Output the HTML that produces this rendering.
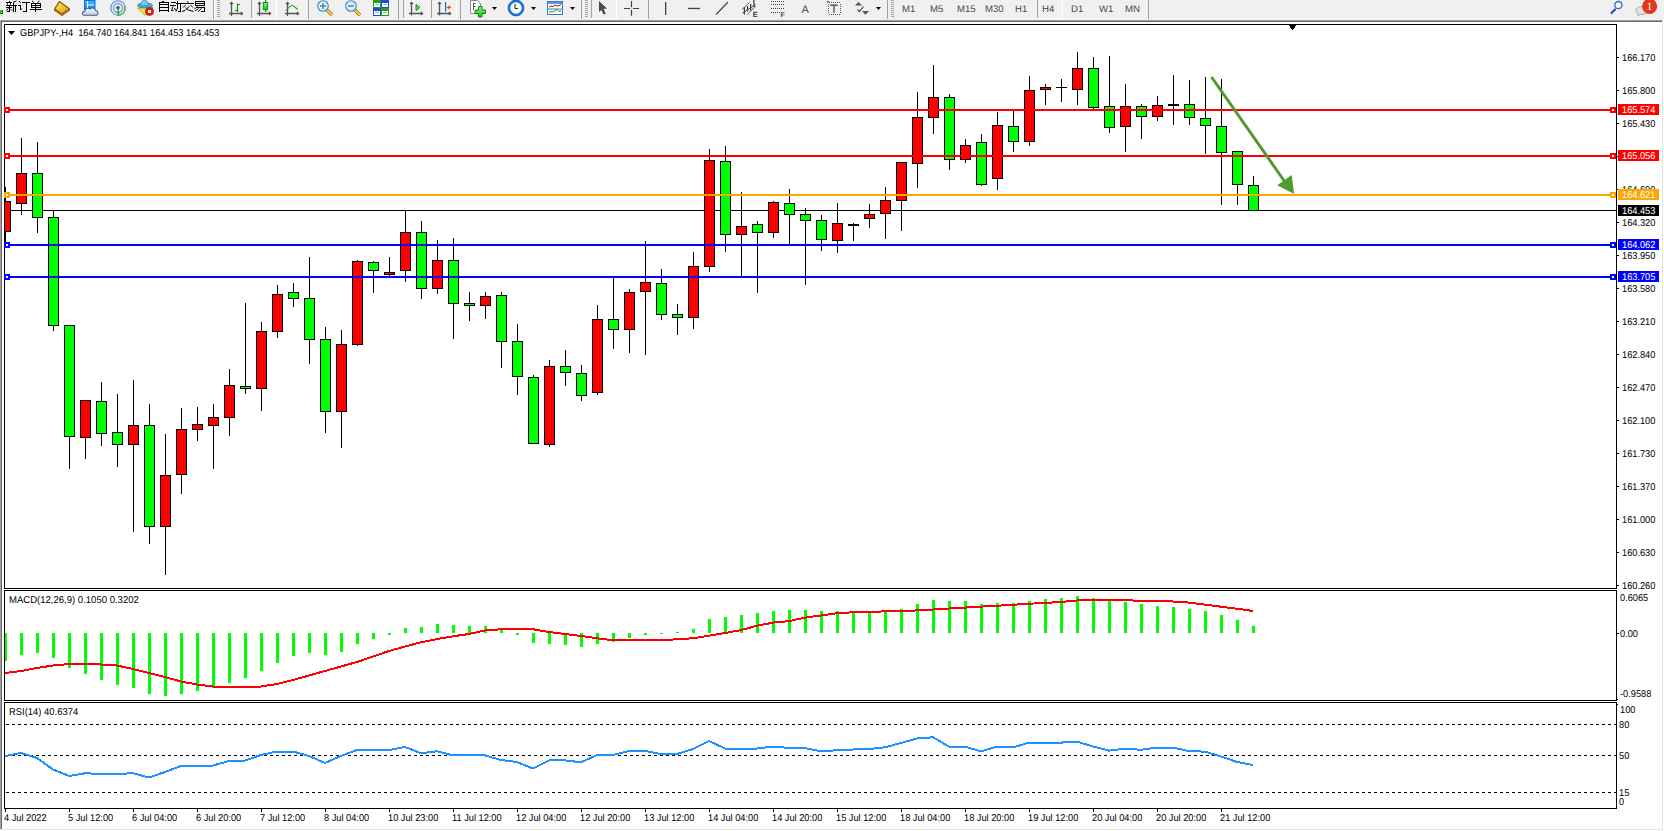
<!DOCTYPE html>
<html><head><meta charset="utf-8"><title>MT4 GBPJPY H4</title>
<style>
html,body{margin:0;padding:0;width:1664px;height:831px;overflow:hidden;background:#f0f0f0;font-family:"Liberation Sans",sans-serif}
svg text{white-space:pre;text-rendering:geometricPrecision}
</style></head><body>
<svg width="1664" height="831" viewBox="0 0 1664 831" style="position:absolute;left:0;top:0">
<g shape-rendering="crispEdges">
<rect x="0" y="0" width="1664" height="20" fill="#f0f0f0"/>
<rect x="0" y="20" width="1662" height="1" fill="#a0a0a0"/>
<rect x="1" y="21" width="1661" height="1" fill="#696969"/>
<rect x="0" y="20" width="1" height="810" fill="#a0a0a0"/>
<rect x="1" y="21" width="1" height="808" fill="#696969"/>
<rect x="2" y="22" width="1660" height="807" fill="#fff"/>
<rect x="1662" y="20" width="1" height="810" fill="#e3e3e3"/>
<rect x="0" y="829" width="1663" height="1" fill="#e3e3e3"/>
<rect x="1663" y="20" width="1" height="811" fill="#fff"/>
<rect x="0" y="830" width="1664" height="1" fill="#fff"/>
<defs><clipPath id="cm"><rect x="5" y="25" width="1611" height="563"/></clipPath><clipPath id="cd"><rect x="5" y="591" width="1611" height="109"/></clipPath><clipPath id="cr"><rect x="5" y="703" width="1611" height="105"/></clipPath></defs>
<g clip-path="url(#cm)"><rect x="5" y="210" width="1611" height="1" fill="#000"/><rect x="5" y="187" width="1" height="55" fill="#000"/><rect x="0" y="201" width="11" height="31" fill="#000"/><rect x="1" y="202" width="9" height="29" fill="#ff0000"/><rect x="21" y="138" width="1" height="77" fill="#000"/><rect x="16" y="173" width="11" height="31" fill="#000"/><rect x="17" y="174" width="9" height="29" fill="#ff0000"/><rect x="37" y="142" width="1" height="91" fill="#000"/><rect x="32" y="173" width="11" height="45" fill="#000"/><rect x="33" y="174" width="9" height="43" fill="#00ff00"/><rect x="53" y="210" width="1" height="121" fill="#000"/><rect x="48" y="217" width="11" height="109" fill="#000"/><rect x="49" y="218" width="9" height="107" fill="#00ff00"/><rect x="69" y="325" width="1" height="144" fill="#000"/><rect x="64" y="325" width="11" height="112" fill="#000"/><rect x="65" y="326" width="9" height="110" fill="#00ff00"/><rect x="85" y="400" width="1" height="59" fill="#000"/><rect x="80" y="400" width="11" height="38" fill="#000"/><rect x="81" y="401" width="9" height="36" fill="#ff0000"/><rect x="101" y="382" width="1" height="64" fill="#000"/><rect x="96" y="401" width="11" height="33" fill="#000"/><rect x="97" y="402" width="9" height="31" fill="#00ff00"/><rect x="117" y="394" width="1" height="73" fill="#000"/><rect x="112" y="432" width="11" height="13" fill="#000"/><rect x="113" y="433" width="9" height="11" fill="#00ff00"/><rect x="133" y="380" width="1" height="152" fill="#000"/><rect x="128" y="425" width="11" height="20" fill="#000"/><rect x="129" y="426" width="9" height="18" fill="#ff0000"/><rect x="149" y="404" width="1" height="140" fill="#000"/><rect x="144" y="425" width="11" height="102" fill="#000"/><rect x="145" y="426" width="9" height="100" fill="#00ff00"/><rect x="165" y="434" width="1" height="141" fill="#000"/><rect x="160" y="475" width="11" height="52" fill="#000"/><rect x="161" y="476" width="9" height="50" fill="#ff0000"/><rect x="181" y="408" width="1" height="86" fill="#000"/><rect x="176" y="429" width="11" height="46" fill="#000"/><rect x="177" y="430" width="9" height="44" fill="#ff0000"/><rect x="197" y="407" width="1" height="34" fill="#000"/><rect x="192" y="424" width="11" height="6" fill="#000"/><rect x="193" y="425" width="9" height="4" fill="#ff0000"/><rect x="213" y="404" width="1" height="65" fill="#000"/><rect x="208" y="417" width="11" height="9" fill="#000"/><rect x="209" y="418" width="9" height="7" fill="#ff0000"/><rect x="229" y="369" width="1" height="67" fill="#000"/><rect x="224" y="385" width="11" height="33" fill="#000"/><rect x="225" y="386" width="9" height="31" fill="#ff0000"/><rect x="245" y="303" width="1" height="91" fill="#000"/><rect x="240" y="386" width="11" height="3" fill="#000"/><rect x="241" y="387" width="9" height="1" fill="#00ff00"/><rect x="261" y="322" width="1" height="89" fill="#000"/><rect x="256" y="331" width="11" height="58" fill="#000"/><rect x="257" y="332" width="9" height="56" fill="#ff0000"/><rect x="277" y="285" width="1" height="53" fill="#000"/><rect x="272" y="294" width="11" height="38" fill="#000"/><rect x="273" y="295" width="9" height="36" fill="#ff0000"/><rect x="293" y="283" width="1" height="24" fill="#000"/><rect x="288" y="292" width="11" height="7" fill="#000"/><rect x="289" y="293" width="9" height="5" fill="#00ff00"/><rect x="309" y="257" width="1" height="107" fill="#000"/><rect x="304" y="298" width="11" height="42" fill="#000"/><rect x="305" y="299" width="9" height="40" fill="#00ff00"/><rect x="325" y="327" width="1" height="106" fill="#000"/><rect x="320" y="339" width="11" height="73" fill="#000"/><rect x="321" y="340" width="9" height="71" fill="#00ff00"/><rect x="341" y="330" width="1" height="118" fill="#000"/><rect x="336" y="344" width="11" height="68" fill="#000"/><rect x="337" y="345" width="9" height="66" fill="#ff0000"/><rect x="357" y="260" width="1" height="86" fill="#000"/><rect x="352" y="261" width="11" height="84" fill="#000"/><rect x="353" y="262" width="9" height="82" fill="#ff0000"/><rect x="373" y="261" width="1" height="32" fill="#000"/><rect x="368" y="262" width="11" height="9" fill="#000"/><rect x="369" y="263" width="9" height="7" fill="#00ff00"/><rect x="389" y="257" width="1" height="19" fill="#000"/><rect x="384" y="272" width="11" height="3" fill="#000"/><rect x="385" y="273" width="9" height="1" fill="#ff0000"/><rect x="405" y="210" width="1" height="72" fill="#000"/><rect x="400" y="232" width="11" height="39" fill="#000"/><rect x="401" y="233" width="9" height="37" fill="#ff0000"/><rect x="421" y="221" width="1" height="78" fill="#000"/><rect x="416" y="232" width="11" height="57" fill="#000"/><rect x="417" y="233" width="9" height="55" fill="#00ff00"/><rect x="437" y="240" width="1" height="54" fill="#000"/><rect x="432" y="260" width="11" height="29" fill="#000"/><rect x="433" y="261" width="9" height="27" fill="#ff0000"/><rect x="453" y="238" width="1" height="101" fill="#000"/><rect x="448" y="260" width="11" height="44" fill="#000"/><rect x="449" y="261" width="9" height="42" fill="#00ff00"/><rect x="469" y="292" width="1" height="29" fill="#000"/><rect x="464" y="303" width="11" height="3" fill="#000"/><rect x="465" y="304" width="9" height="1" fill="#00ff00"/><rect x="485" y="292" width="1" height="27" fill="#000"/><rect x="480" y="296" width="11" height="10" fill="#000"/><rect x="481" y="297" width="9" height="8" fill="#ff0000"/><rect x="501" y="292" width="1" height="76" fill="#000"/><rect x="496" y="295" width="11" height="47" fill="#000"/><rect x="497" y="296" width="9" height="45" fill="#00ff00"/><rect x="517" y="324" width="1" height="71" fill="#000"/><rect x="512" y="341" width="11" height="36" fill="#000"/><rect x="513" y="342" width="9" height="34" fill="#00ff00"/><rect x="533" y="375" width="1" height="69" fill="#000"/><rect x="528" y="377" width="11" height="67" fill="#000"/><rect x="529" y="378" width="9" height="65" fill="#00ff00"/><rect x="549" y="360" width="1" height="87" fill="#000"/><rect x="544" y="366" width="11" height="79" fill="#000"/><rect x="545" y="367" width="9" height="77" fill="#ff0000"/><rect x="565" y="350" width="1" height="36" fill="#000"/><rect x="560" y="366" width="11" height="7" fill="#000"/><rect x="561" y="367" width="9" height="5" fill="#00ff00"/><rect x="581" y="365" width="1" height="36" fill="#000"/><rect x="576" y="373" width="11" height="23" fill="#000"/><rect x="577" y="374" width="9" height="21" fill="#00ff00"/><rect x="597" y="305" width="1" height="90" fill="#000"/><rect x="592" y="319" width="11" height="74" fill="#000"/><rect x="593" y="320" width="9" height="72" fill="#ff0000"/><rect x="613" y="277" width="1" height="72" fill="#000"/><rect x="608" y="319" width="11" height="11" fill="#000"/><rect x="609" y="320" width="9" height="9" fill="#00ff00"/><rect x="629" y="289" width="1" height="64" fill="#000"/><rect x="624" y="292" width="11" height="38" fill="#000"/><rect x="625" y="293" width="9" height="36" fill="#ff0000"/><rect x="645" y="241" width="1" height="114" fill="#000"/><rect x="640" y="282" width="11" height="10" fill="#000"/><rect x="641" y="283" width="9" height="8" fill="#ff0000"/><rect x="661" y="269" width="1" height="51" fill="#000"/><rect x="656" y="283" width="11" height="32" fill="#000"/><rect x="657" y="284" width="9" height="30" fill="#00ff00"/><rect x="677" y="304" width="1" height="31" fill="#000"/><rect x="672" y="314" width="11" height="4" fill="#000"/><rect x="673" y="315" width="9" height="2" fill="#00ff00"/><rect x="693" y="252" width="1" height="77" fill="#000"/><rect x="688" y="266" width="11" height="52" fill="#000"/><rect x="689" y="267" width="9" height="50" fill="#ff0000"/><rect x="709" y="149" width="1" height="123" fill="#000"/><rect x="704" y="160" width="11" height="107" fill="#000"/><rect x="705" y="161" width="9" height="105" fill="#ff0000"/><rect x="725" y="146" width="1" height="106" fill="#000"/><rect x="720" y="161" width="11" height="74" fill="#000"/><rect x="721" y="162" width="9" height="72" fill="#00ff00"/><rect x="741" y="192" width="1" height="86" fill="#000"/><rect x="736" y="226" width="11" height="9" fill="#000"/><rect x="737" y="227" width="9" height="7" fill="#ff0000"/><rect x="757" y="221" width="1" height="72" fill="#000"/><rect x="752" y="224" width="11" height="9" fill="#000"/><rect x="753" y="225" width="9" height="7" fill="#00ff00"/><rect x="773" y="201" width="1" height="37" fill="#000"/><rect x="768" y="202" width="11" height="31" fill="#000"/><rect x="769" y="203" width="9" height="29" fill="#ff0000"/><rect x="789" y="189" width="1" height="56" fill="#000"/><rect x="784" y="203" width="11" height="12" fill="#000"/><rect x="785" y="204" width="9" height="10" fill="#00ff00"/><rect x="805" y="208" width="1" height="77" fill="#000"/><rect x="800" y="214" width="11" height="7" fill="#000"/><rect x="801" y="215" width="9" height="5" fill="#00ff00"/><rect x="821" y="215" width="1" height="36" fill="#000"/><rect x="816" y="220" width="11" height="20" fill="#000"/><rect x="817" y="221" width="9" height="18" fill="#00ff00"/><rect x="837" y="203" width="1" height="50" fill="#000"/><rect x="832" y="223" width="11" height="18" fill="#000"/><rect x="833" y="224" width="9" height="16" fill="#ff0000"/><rect x="853" y="223" width="1" height="18" fill="#000"/><rect x="848" y="224" width="11" height="2" fill="#000"/><rect x="869" y="204" width="1" height="24" fill="#000"/><rect x="864" y="214" width="11" height="5" fill="#000"/><rect x="865" y="215" width="9" height="3" fill="#ff0000"/><rect x="885" y="187" width="1" height="52" fill="#000"/><rect x="880" y="200" width="11" height="14" fill="#000"/><rect x="881" y="201" width="9" height="12" fill="#ff0000"/><rect x="901" y="162" width="1" height="69" fill="#000"/><rect x="896" y="162" width="11" height="39" fill="#000"/><rect x="897" y="163" width="9" height="37" fill="#ff0000"/><rect x="917" y="92" width="1" height="96" fill="#000"/><rect x="912" y="117" width="11" height="47" fill="#000"/><rect x="913" y="118" width="9" height="45" fill="#ff0000"/><rect x="933" y="65" width="1" height="69" fill="#000"/><rect x="928" y="97" width="11" height="21" fill="#000"/><rect x="929" y="98" width="9" height="19" fill="#ff0000"/><rect x="949" y="94" width="1" height="76" fill="#000"/><rect x="944" y="97" width="11" height="63" fill="#000"/><rect x="945" y="98" width="9" height="61" fill="#00ff00"/><rect x="965" y="139" width="1" height="24" fill="#000"/><rect x="960" y="145" width="11" height="15" fill="#000"/><rect x="961" y="146" width="9" height="13" fill="#ff0000"/><rect x="981" y="134" width="1" height="52" fill="#000"/><rect x="976" y="142" width="11" height="43" fill="#000"/><rect x="977" y="143" width="9" height="41" fill="#00ff00"/><rect x="997" y="112" width="1" height="78" fill="#000"/><rect x="992" y="125" width="11" height="54" fill="#000"/><rect x="993" y="126" width="9" height="52" fill="#ff0000"/><rect x="1013" y="110" width="1" height="42" fill="#000"/><rect x="1008" y="126" width="11" height="16" fill="#000"/><rect x="1009" y="127" width="9" height="14" fill="#00ff00"/><rect x="1029" y="76" width="1" height="70" fill="#000"/><rect x="1024" y="90" width="11" height="52" fill="#000"/><rect x="1025" y="91" width="9" height="50" fill="#ff0000"/><rect x="1045" y="84" width="1" height="21" fill="#000"/><rect x="1040" y="87" width="11" height="3" fill="#000"/><rect x="1041" y="88" width="9" height="1" fill="#ff0000"/><rect x="1061" y="79" width="1" height="23" fill="#000"/><rect x="1056" y="87" width="11" height="1" fill="#000"/><rect x="1077" y="52" width="1" height="53" fill="#000"/><rect x="1072" y="68" width="11" height="22" fill="#000"/><rect x="1073" y="69" width="9" height="20" fill="#ff0000"/><rect x="1093" y="57" width="1" height="53" fill="#000"/><rect x="1088" y="68" width="11" height="40" fill="#000"/><rect x="1089" y="69" width="9" height="38" fill="#00ff00"/><rect x="1109" y="56" width="1" height="77" fill="#000"/><rect x="1104" y="106" width="11" height="22" fill="#000"/><rect x="1105" y="107" width="9" height="20" fill="#00ff00"/><rect x="1125" y="84" width="1" height="68" fill="#000"/><rect x="1120" y="106" width="11" height="21" fill="#000"/><rect x="1121" y="107" width="9" height="19" fill="#ff0000"/><rect x="1141" y="104" width="1" height="35" fill="#000"/><rect x="1136" y="106" width="11" height="11" fill="#000"/><rect x="1137" y="107" width="9" height="9" fill="#00ff00"/><rect x="1157" y="96" width="1" height="25" fill="#000"/><rect x="1152" y="105" width="11" height="12" fill="#000"/><rect x="1153" y="106" width="9" height="10" fill="#ff0000"/><rect x="1173" y="75" width="1" height="50" fill="#000"/><rect x="1168" y="104" width="11" height="2" fill="#000"/><rect x="1189" y="80" width="1" height="45" fill="#000"/><rect x="1184" y="104" width="11" height="14" fill="#000"/><rect x="1185" y="105" width="9" height="12" fill="#00ff00"/><rect x="1205" y="77" width="1" height="77" fill="#000"/><rect x="1200" y="118" width="11" height="8" fill="#000"/><rect x="1201" y="119" width="9" height="6" fill="#00ff00"/><rect x="1221" y="79" width="1" height="126" fill="#000"/><rect x="1216" y="126" width="11" height="27" fill="#000"/><rect x="1217" y="127" width="9" height="25" fill="#00ff00"/><rect x="1237" y="151" width="1" height="54" fill="#000"/><rect x="1232" y="151" width="11" height="34" fill="#000"/><rect x="1233" y="152" width="9" height="32" fill="#00ff00"/><rect x="1253" y="176" width="1" height="35" fill="#000"/><rect x="1248" y="185" width="11" height="26" fill="#000"/><rect x="1249" y="186" width="9" height="24" fill="#00ff00"/></g>
<rect x="4" y="24" width="1613" height="1" fill="#000"/><rect x="4" y="588" width="1613" height="1" fill="#000"/><rect x="4" y="24" width="1" height="565" fill="#000"/><rect x="1616" y="24" width="1" height="565" fill="#000"/><rect x="4" y="590" width="1613" height="1" fill="#000"/><rect x="4" y="700" width="1613" height="1" fill="#000"/><rect x="4" y="590" width="1" height="111" fill="#000"/><rect x="1616" y="590" width="1" height="111" fill="#000"/><rect x="4" y="702" width="1613" height="1" fill="#000"/><rect x="4" y="808" width="1613" height="1" fill="#000"/><rect x="4" y="702" width="1" height="107" fill="#000"/><rect x="1616" y="702" width="1" height="107" fill="#000"/>
<rect x="5" y="109" width="1611" height="2" fill="#ff0000"/><rect x="4" y="107" width="6" height="6" fill="#ff0000"/><rect x="6" y="109" width="2" height="2" fill="#fff"/><rect x="1610" y="107" width="6" height="6" fill="#ff0000"/><rect x="1612" y="109" width="2" height="2" fill="#fff"/><rect x="5" y="155" width="1611" height="2" fill="#ff0000"/><rect x="4" y="153" width="6" height="6" fill="#ff0000"/><rect x="6" y="155" width="2" height="2" fill="#fff"/><rect x="1610" y="153" width="6" height="6" fill="#ff0000"/><rect x="1612" y="155" width="2" height="2" fill="#fff"/><rect x="5" y="194" width="1611" height="2" fill="#ffa500"/><rect x="4" y="192" width="6" height="6" fill="#ffa500"/><rect x="6" y="194" width="2" height="2" fill="#fff"/><rect x="1610" y="192" width="6" height="6" fill="#ffa500"/><rect x="1612" y="194" width="2" height="2" fill="#fff"/><rect x="5" y="244" width="1611" height="2" fill="#0000ff"/><rect x="4" y="242" width="6" height="6" fill="#0000ff"/><rect x="6" y="244" width="2" height="2" fill="#fff"/><rect x="1610" y="242" width="6" height="6" fill="#0000ff"/><rect x="1612" y="244" width="2" height="2" fill="#fff"/><rect x="5" y="276" width="1611" height="2" fill="#0000ff"/><rect x="4" y="274" width="6" height="6" fill="#0000ff"/><rect x="6" y="276" width="2" height="2" fill="#fff"/><rect x="1610" y="274" width="6" height="6" fill="#0000ff"/><rect x="1612" y="276" width="2" height="2" fill="#fff"/>
<rect x="1617" y="57" width="2" height="1" fill="#000"/><rect x="1617" y="90" width="2" height="1" fill="#000"/><rect x="1617" y="123" width="2" height="1" fill="#000"/><rect x="1617" y="156" width="2" height="1" fill="#000"/><rect x="1617" y="189" width="2" height="1" fill="#000"/><rect x="1617" y="222" width="2" height="1" fill="#000"/><rect x="1617" y="255" width="2" height="1" fill="#000"/><rect x="1617" y="288" width="2" height="1" fill="#000"/><rect x="1617" y="321" width="2" height="1" fill="#000"/><rect x="1617" y="354" width="2" height="1" fill="#000"/><rect x="1617" y="387" width="2" height="1" fill="#000"/><rect x="1617" y="420" width="2" height="1" fill="#000"/><rect x="1617" y="453" width="2" height="1" fill="#000"/><rect x="1617" y="486" width="2" height="1" fill="#000"/><rect x="1617" y="519" width="2" height="1" fill="#000"/><rect x="1617" y="552" width="2" height="1" fill="#000"/><rect x="1617" y="585" width="2" height="1" fill="#000"/>
</g><g font-family="Liberation Sans, sans-serif"><text transform="translate(1622 61) scale(0.935 1)" font-size="9.9" fill="#000">166.170</text><text transform="translate(1622 94) scale(0.935 1)" font-size="9.9" fill="#000">165.800</text><text transform="translate(1622 127) scale(0.935 1)" font-size="9.9" fill="#000">165.430</text><text transform="translate(1622 160) scale(0.935 1)" font-size="9.9" fill="#000">165.060</text><text transform="translate(1622 193) scale(0.935 1)" font-size="9.9" fill="#000">164.690</text><text transform="translate(1622 226) scale(0.935 1)" font-size="9.9" fill="#000">164.320</text><text transform="translate(1622 259) scale(0.935 1)" font-size="9.9" fill="#000">163.950</text><text transform="translate(1622 292) scale(0.935 1)" font-size="9.9" fill="#000">163.580</text><text transform="translate(1622 325) scale(0.935 1)" font-size="9.9" fill="#000">163.210</text><text transform="translate(1622 358) scale(0.935 1)" font-size="9.9" fill="#000">162.840</text><text transform="translate(1622 391) scale(0.935 1)" font-size="9.9" fill="#000">162.470</text><text transform="translate(1622 424) scale(0.935 1)" font-size="9.9" fill="#000">162.100</text><text transform="translate(1622 457) scale(0.935 1)" font-size="9.9" fill="#000">161.730</text><text transform="translate(1622 490) scale(0.935 1)" font-size="9.9" fill="#000">161.370</text><text transform="translate(1622 523) scale(0.935 1)" font-size="9.9" fill="#000">161.000</text><text transform="translate(1622 556) scale(0.935 1)" font-size="9.9" fill="#000">160.630</text><text transform="translate(1622 589) scale(0.935 1)" font-size="9.9" fill="#000">160.260</text><text transform="translate(1620 601) scale(0.935 1)" font-size="9.9" fill="#000">0.6065</text><text transform="translate(1620 637) scale(0.935 1)" font-size="9.9" fill="#000">0.00</text><text transform="translate(1620 697) scale(0.935 1)" font-size="9.9" fill="#000">-0.9588</text><text transform="translate(1620 713) scale(0.935 1)" font-size="9.9" fill="#000">100</text><text transform="translate(1619 728) scale(0.935 1)" font-size="9.9" fill="#000">80</text><text transform="translate(1619 759) scale(0.935 1)" font-size="9.9" fill="#000">50</text><text transform="translate(1619 796) scale(0.935 1)" font-size="9.9" fill="#000">15</text><text transform="translate(1619 805) scale(0.935 1)" font-size="9.9" fill="#000">0</text><text transform="translate(4 821) scale(0.935 1)" font-size="9.9" fill="#000">4 Jul 2022</text><text transform="translate(68 821) scale(0.935 1)" font-size="9.9" fill="#000">5 Jul 12:00</text><text transform="translate(132 821) scale(0.935 1)" font-size="9.9" fill="#000">6 Jul 04:00</text><text transform="translate(196 821) scale(0.935 1)" font-size="9.9" fill="#000">6 Jul 20:00</text><text transform="translate(260 821) scale(0.935 1)" font-size="9.9" fill="#000">7 Jul 12:00</text><text transform="translate(324 821) scale(0.935 1)" font-size="9.9" fill="#000">8 Jul 04:00</text><text transform="translate(388 821) scale(0.935 1)" font-size="9.9" fill="#000">10 Jul 23:00</text><text transform="translate(452 821) scale(0.935 1)" font-size="9.9" fill="#000">11 Jul 12:00</text><text transform="translate(516 821) scale(0.935 1)" font-size="9.9" fill="#000">12 Jul 04:00</text><text transform="translate(580 821) scale(0.935 1)" font-size="9.9" fill="#000">12 Jul 20:00</text><text transform="translate(644 821) scale(0.935 1)" font-size="9.9" fill="#000">13 Jul 12:00</text><text transform="translate(708 821) scale(0.935 1)" font-size="9.9" fill="#000">14 Jul 04:00</text><text transform="translate(772 821) scale(0.935 1)" font-size="9.9" fill="#000">14 Jul 20:00</text><text transform="translate(836 821) scale(0.935 1)" font-size="9.9" fill="#000">15 Jul 12:00</text><text transform="translate(900 821) scale(0.935 1)" font-size="9.9" fill="#000">18 Jul 04:00</text><text transform="translate(964 821) scale(0.935 1)" font-size="9.9" fill="#000">18 Jul 20:00</text><text transform="translate(1028 821) scale(0.935 1)" font-size="9.9" fill="#000">19 Jul 12:00</text><text transform="translate(1092 821) scale(0.935 1)" font-size="9.9" fill="#000">20 Jul 04:00</text><text transform="translate(1156 821) scale(0.935 1)" font-size="9.9" fill="#000">20 Jul 20:00</text><text transform="translate(1220 821) scale(0.935 1)" font-size="9.9" fill="#000">21 Jul 12:00</text></g><g shape-rendering="crispEdges">
<rect x="1618" y="104" width="41" height="11" fill="#ff0000"/><rect x="1618" y="150" width="41" height="11" fill="#ff0000"/><rect x="1618" y="189" width="41" height="11" fill="#ffa500"/><rect x="1618" y="205" width="41" height="11" fill="#000"/><rect x="1618" y="239" width="41" height="11" fill="#0000ff"/><rect x="1618" y="271" width="41" height="11" fill="#0000ff"/>
<g clip-path="url(#cd)"><rect x="4" y="633" width="3" height="28" fill="#00ff00"/><rect x="20" y="633" width="3" height="22" fill="#00ff00"/><rect x="36" y="633" width="3" height="20" fill="#00ff00"/><rect x="52" y="633" width="3" height="25" fill="#00ff00"/><rect x="68" y="633" width="3" height="35" fill="#00ff00"/><rect x="84" y="633" width="3" height="41" fill="#00ff00"/><rect x="100" y="633" width="3" height="47" fill="#00ff00"/><rect x="116" y="633" width="3" height="52" fill="#00ff00"/><rect x="132" y="633" width="3" height="55" fill="#00ff00"/><rect x="148" y="633" width="3" height="61" fill="#00ff00"/><rect x="164" y="633" width="3" height="63" fill="#00ff00"/><rect x="180" y="633" width="3" height="61" fill="#00ff00"/><rect x="196" y="633" width="3" height="58" fill="#00ff00"/><rect x="212" y="633" width="3" height="55" fill="#00ff00"/><rect x="228" y="633" width="3" height="50" fill="#00ff00"/><rect x="244" y="633" width="3" height="45" fill="#00ff00"/><rect x="260" y="633" width="3" height="38" fill="#00ff00"/><rect x="276" y="633" width="3" height="30" fill="#00ff00"/><rect x="292" y="633" width="3" height="23" fill="#00ff00"/><rect x="308" y="633" width="3" height="20" fill="#00ff00"/><rect x="324" y="633" width="3" height="22" fill="#00ff00"/><rect x="340" y="633" width="3" height="19" fill="#00ff00"/><rect x="356" y="633" width="3" height="11" fill="#00ff00"/><rect x="372" y="633" width="3" height="6" fill="#00ff00"/><rect x="388" y="633" width="3" height="2" fill="#00ff00"/><rect x="404" y="628" width="3" height="5" fill="#00ff00"/><rect x="420" y="627" width="3" height="6" fill="#00ff00"/><rect x="436" y="624" width="3" height="9" fill="#00ff00"/><rect x="452" y="625" width="3" height="8" fill="#00ff00"/><rect x="468" y="626" width="3" height="7" fill="#00ff00"/><rect x="484" y="626" width="3" height="7" fill="#00ff00"/><rect x="500" y="629" width="3" height="4" fill="#00ff00"/><rect x="516" y="633" width="3" height="2" fill="#00ff00"/><rect x="532" y="633" width="3" height="10" fill="#00ff00"/><rect x="548" y="633" width="3" height="11" fill="#00ff00"/><rect x="564" y="633" width="3" height="12" fill="#00ff00"/><rect x="580" y="633" width="3" height="14" fill="#00ff00"/><rect x="596" y="633" width="3" height="11" fill="#00ff00"/><rect x="612" y="633" width="3" height="9" fill="#00ff00"/><rect x="628" y="633" width="3" height="5" fill="#00ff00"/><rect x="644" y="633" width="3" height="2" fill="#00ff00"/><rect x="660" y="633" width="3" height="1" fill="#00ff00"/><rect x="676" y="632" width="3" height="1" fill="#00ff00"/><rect x="692" y="629" width="3" height="4" fill="#00ff00"/><rect x="708" y="619" width="3" height="14" fill="#00ff00"/><rect x="724" y="617" width="3" height="16" fill="#00ff00"/><rect x="740" y="615" width="3" height="18" fill="#00ff00"/><rect x="756" y="613" width="3" height="20" fill="#00ff00"/><rect x="772" y="611" width="3" height="22" fill="#00ff00"/><rect x="788" y="610" width="3" height="23" fill="#00ff00"/><rect x="804" y="610" width="3" height="23" fill="#00ff00"/><rect x="820" y="611" width="3" height="22" fill="#00ff00"/><rect x="836" y="611" width="3" height="22" fill="#00ff00"/><rect x="852" y="612" width="3" height="21" fill="#00ff00"/><rect x="868" y="612" width="3" height="21" fill="#00ff00"/><rect x="884" y="612" width="3" height="21" fill="#00ff00"/><rect x="900" y="609" width="3" height="24" fill="#00ff00"/><rect x="916" y="604" width="3" height="29" fill="#00ff00"/><rect x="932" y="600" width="3" height="33" fill="#00ff00"/><rect x="948" y="601" width="3" height="32" fill="#00ff00"/><rect x="964" y="601" width="3" height="32" fill="#00ff00"/><rect x="980" y="604" width="3" height="29" fill="#00ff00"/><rect x="996" y="603" width="3" height="30" fill="#00ff00"/><rect x="1012" y="603" width="3" height="30" fill="#00ff00"/><rect x="1028" y="601" width="3" height="32" fill="#00ff00"/><rect x="1044" y="599" width="3" height="34" fill="#00ff00"/><rect x="1060" y="598" width="3" height="35" fill="#00ff00"/><rect x="1076" y="596" width="3" height="37" fill="#00ff00"/><rect x="1092" y="598" width="3" height="35" fill="#00ff00"/><rect x="1108" y="601" width="3" height="32" fill="#00ff00"/><rect x="1124" y="602" width="3" height="31" fill="#00ff00"/><rect x="1140" y="604" width="3" height="29" fill="#00ff00"/><rect x="1156" y="606" width="3" height="27" fill="#00ff00"/><rect x="1172" y="607" width="3" height="26" fill="#00ff00"/><rect x="1188" y="609" width="3" height="24" fill="#00ff00"/><rect x="1204" y="611" width="3" height="22" fill="#00ff00"/><rect x="1220" y="615" width="3" height="18" fill="#00ff00"/><rect x="1236" y="620" width="3" height="13" fill="#00ff00"/><rect x="1252" y="626" width="3" height="7" fill="#00ff00"/></g>
<rect x="6" y="724" width="3" height="1" fill="#000"/><rect x="12" y="724" width="3" height="1" fill="#000"/><rect x="18" y="724" width="3" height="1" fill="#000"/><rect x="24" y="724" width="3" height="1" fill="#000"/><rect x="30" y="724" width="3" height="1" fill="#000"/><rect x="36" y="724" width="3" height="1" fill="#000"/><rect x="42" y="724" width="3" height="1" fill="#000"/><rect x="48" y="724" width="3" height="1" fill="#000"/><rect x="54" y="724" width="3" height="1" fill="#000"/><rect x="60" y="724" width="3" height="1" fill="#000"/><rect x="66" y="724" width="3" height="1" fill="#000"/><rect x="72" y="724" width="3" height="1" fill="#000"/><rect x="78" y="724" width="3" height="1" fill="#000"/><rect x="84" y="724" width="3" height="1" fill="#000"/><rect x="90" y="724" width="3" height="1" fill="#000"/><rect x="96" y="724" width="3" height="1" fill="#000"/><rect x="102" y="724" width="3" height="1" fill="#000"/><rect x="108" y="724" width="3" height="1" fill="#000"/><rect x="114" y="724" width="3" height="1" fill="#000"/><rect x="120" y="724" width="3" height="1" fill="#000"/><rect x="126" y="724" width="3" height="1" fill="#000"/><rect x="132" y="724" width="3" height="1" fill="#000"/><rect x="138" y="724" width="3" height="1" fill="#000"/><rect x="144" y="724" width="3" height="1" fill="#000"/><rect x="150" y="724" width="3" height="1" fill="#000"/><rect x="156" y="724" width="3" height="1" fill="#000"/><rect x="162" y="724" width="3" height="1" fill="#000"/><rect x="168" y="724" width="3" height="1" fill="#000"/><rect x="174" y="724" width="3" height="1" fill="#000"/><rect x="180" y="724" width="3" height="1" fill="#000"/><rect x="186" y="724" width="3" height="1" fill="#000"/><rect x="192" y="724" width="3" height="1" fill="#000"/><rect x="198" y="724" width="3" height="1" fill="#000"/><rect x="204" y="724" width="3" height="1" fill="#000"/><rect x="210" y="724" width="3" height="1" fill="#000"/><rect x="216" y="724" width="3" height="1" fill="#000"/><rect x="222" y="724" width="3" height="1" fill="#000"/><rect x="228" y="724" width="3" height="1" fill="#000"/><rect x="234" y="724" width="3" height="1" fill="#000"/><rect x="240" y="724" width="3" height="1" fill="#000"/><rect x="246" y="724" width="3" height="1" fill="#000"/><rect x="252" y="724" width="3" height="1" fill="#000"/><rect x="258" y="724" width="3" height="1" fill="#000"/><rect x="264" y="724" width="3" height="1" fill="#000"/><rect x="270" y="724" width="3" height="1" fill="#000"/><rect x="276" y="724" width="3" height="1" fill="#000"/><rect x="282" y="724" width="3" height="1" fill="#000"/><rect x="288" y="724" width="3" height="1" fill="#000"/><rect x="294" y="724" width="3" height="1" fill="#000"/><rect x="300" y="724" width="3" height="1" fill="#000"/><rect x="306" y="724" width="3" height="1" fill="#000"/><rect x="312" y="724" width="3" height="1" fill="#000"/><rect x="318" y="724" width="3" height="1" fill="#000"/><rect x="324" y="724" width="3" height="1" fill="#000"/><rect x="330" y="724" width="3" height="1" fill="#000"/><rect x="336" y="724" width="3" height="1" fill="#000"/><rect x="342" y="724" width="3" height="1" fill="#000"/><rect x="348" y="724" width="3" height="1" fill="#000"/><rect x="354" y="724" width="3" height="1" fill="#000"/><rect x="360" y="724" width="3" height="1" fill="#000"/><rect x="366" y="724" width="3" height="1" fill="#000"/><rect x="372" y="724" width="3" height="1" fill="#000"/><rect x="378" y="724" width="3" height="1" fill="#000"/><rect x="384" y="724" width="3" height="1" fill="#000"/><rect x="390" y="724" width="3" height="1" fill="#000"/><rect x="396" y="724" width="3" height="1" fill="#000"/><rect x="402" y="724" width="3" height="1" fill="#000"/><rect x="408" y="724" width="3" height="1" fill="#000"/><rect x="414" y="724" width="3" height="1" fill="#000"/><rect x="420" y="724" width="3" height="1" fill="#000"/><rect x="426" y="724" width="3" height="1" fill="#000"/><rect x="432" y="724" width="3" height="1" fill="#000"/><rect x="438" y="724" width="3" height="1" fill="#000"/><rect x="444" y="724" width="3" height="1" fill="#000"/><rect x="450" y="724" width="3" height="1" fill="#000"/><rect x="456" y="724" width="3" height="1" fill="#000"/><rect x="462" y="724" width="3" height="1" fill="#000"/><rect x="468" y="724" width="3" height="1" fill="#000"/><rect x="474" y="724" width="3" height="1" fill="#000"/><rect x="480" y="724" width="3" height="1" fill="#000"/><rect x="486" y="724" width="3" height="1" fill="#000"/><rect x="492" y="724" width="3" height="1" fill="#000"/><rect x="498" y="724" width="3" height="1" fill="#000"/><rect x="504" y="724" width="3" height="1" fill="#000"/><rect x="510" y="724" width="3" height="1" fill="#000"/><rect x="516" y="724" width="3" height="1" fill="#000"/><rect x="522" y="724" width="3" height="1" fill="#000"/><rect x="528" y="724" width="3" height="1" fill="#000"/><rect x="534" y="724" width="3" height="1" fill="#000"/><rect x="540" y="724" width="3" height="1" fill="#000"/><rect x="546" y="724" width="3" height="1" fill="#000"/><rect x="552" y="724" width="3" height="1" fill="#000"/><rect x="558" y="724" width="3" height="1" fill="#000"/><rect x="564" y="724" width="3" height="1" fill="#000"/><rect x="570" y="724" width="3" height="1" fill="#000"/><rect x="576" y="724" width="3" height="1" fill="#000"/><rect x="582" y="724" width="3" height="1" fill="#000"/><rect x="588" y="724" width="3" height="1" fill="#000"/><rect x="594" y="724" width="3" height="1" fill="#000"/><rect x="600" y="724" width="3" height="1" fill="#000"/><rect x="606" y="724" width="3" height="1" fill="#000"/><rect x="612" y="724" width="3" height="1" fill="#000"/><rect x="618" y="724" width="3" height="1" fill="#000"/><rect x="624" y="724" width="3" height="1" fill="#000"/><rect x="630" y="724" width="3" height="1" fill="#000"/><rect x="636" y="724" width="3" height="1" fill="#000"/><rect x="642" y="724" width="3" height="1" fill="#000"/><rect x="648" y="724" width="3" height="1" fill="#000"/><rect x="654" y="724" width="3" height="1" fill="#000"/><rect x="660" y="724" width="3" height="1" fill="#000"/><rect x="666" y="724" width="3" height="1" fill="#000"/><rect x="672" y="724" width="3" height="1" fill="#000"/><rect x="678" y="724" width="3" height="1" fill="#000"/><rect x="684" y="724" width="3" height="1" fill="#000"/><rect x="690" y="724" width="3" height="1" fill="#000"/><rect x="696" y="724" width="3" height="1" fill="#000"/><rect x="702" y="724" width="3" height="1" fill="#000"/><rect x="708" y="724" width="3" height="1" fill="#000"/><rect x="714" y="724" width="3" height="1" fill="#000"/><rect x="720" y="724" width="3" height="1" fill="#000"/><rect x="726" y="724" width="3" height="1" fill="#000"/><rect x="732" y="724" width="3" height="1" fill="#000"/><rect x="738" y="724" width="3" height="1" fill="#000"/><rect x="744" y="724" width="3" height="1" fill="#000"/><rect x="750" y="724" width="3" height="1" fill="#000"/><rect x="756" y="724" width="3" height="1" fill="#000"/><rect x="762" y="724" width="3" height="1" fill="#000"/><rect x="768" y="724" width="3" height="1" fill="#000"/><rect x="774" y="724" width="3" height="1" fill="#000"/><rect x="780" y="724" width="3" height="1" fill="#000"/><rect x="786" y="724" width="3" height="1" fill="#000"/><rect x="792" y="724" width="3" height="1" fill="#000"/><rect x="798" y="724" width="3" height="1" fill="#000"/><rect x="804" y="724" width="3" height="1" fill="#000"/><rect x="810" y="724" width="3" height="1" fill="#000"/><rect x="816" y="724" width="3" height="1" fill="#000"/><rect x="822" y="724" width="3" height="1" fill="#000"/><rect x="828" y="724" width="3" height="1" fill="#000"/><rect x="834" y="724" width="3" height="1" fill="#000"/><rect x="840" y="724" width="3" height="1" fill="#000"/><rect x="846" y="724" width="3" height="1" fill="#000"/><rect x="852" y="724" width="3" height="1" fill="#000"/><rect x="858" y="724" width="3" height="1" fill="#000"/><rect x="864" y="724" width="3" height="1" fill="#000"/><rect x="870" y="724" width="3" height="1" fill="#000"/><rect x="876" y="724" width="3" height="1" fill="#000"/><rect x="882" y="724" width="3" height="1" fill="#000"/><rect x="888" y="724" width="3" height="1" fill="#000"/><rect x="894" y="724" width="3" height="1" fill="#000"/><rect x="900" y="724" width="3" height="1" fill="#000"/><rect x="906" y="724" width="3" height="1" fill="#000"/><rect x="912" y="724" width="3" height="1" fill="#000"/><rect x="918" y="724" width="3" height="1" fill="#000"/><rect x="924" y="724" width="3" height="1" fill="#000"/><rect x="930" y="724" width="3" height="1" fill="#000"/><rect x="936" y="724" width="3" height="1" fill="#000"/><rect x="942" y="724" width="3" height="1" fill="#000"/><rect x="948" y="724" width="3" height="1" fill="#000"/><rect x="954" y="724" width="3" height="1" fill="#000"/><rect x="960" y="724" width="3" height="1" fill="#000"/><rect x="966" y="724" width="3" height="1" fill="#000"/><rect x="972" y="724" width="3" height="1" fill="#000"/><rect x="978" y="724" width="3" height="1" fill="#000"/><rect x="984" y="724" width="3" height="1" fill="#000"/><rect x="990" y="724" width="3" height="1" fill="#000"/><rect x="996" y="724" width="3" height="1" fill="#000"/><rect x="1002" y="724" width="3" height="1" fill="#000"/><rect x="1008" y="724" width="3" height="1" fill="#000"/><rect x="1014" y="724" width="3" height="1" fill="#000"/><rect x="1020" y="724" width="3" height="1" fill="#000"/><rect x="1026" y="724" width="3" height="1" fill="#000"/><rect x="1032" y="724" width="3" height="1" fill="#000"/><rect x="1038" y="724" width="3" height="1" fill="#000"/><rect x="1044" y="724" width="3" height="1" fill="#000"/><rect x="1050" y="724" width="3" height="1" fill="#000"/><rect x="1056" y="724" width="3" height="1" fill="#000"/><rect x="1062" y="724" width="3" height="1" fill="#000"/><rect x="1068" y="724" width="3" height="1" fill="#000"/><rect x="1074" y="724" width="3" height="1" fill="#000"/><rect x="1080" y="724" width="3" height="1" fill="#000"/><rect x="1086" y="724" width="3" height="1" fill="#000"/><rect x="1092" y="724" width="3" height="1" fill="#000"/><rect x="1098" y="724" width="3" height="1" fill="#000"/><rect x="1104" y="724" width="3" height="1" fill="#000"/><rect x="1110" y="724" width="3" height="1" fill="#000"/><rect x="1116" y="724" width="3" height="1" fill="#000"/><rect x="1122" y="724" width="3" height="1" fill="#000"/><rect x="1128" y="724" width="3" height="1" fill="#000"/><rect x="1134" y="724" width="3" height="1" fill="#000"/><rect x="1140" y="724" width="3" height="1" fill="#000"/><rect x="1146" y="724" width="3" height="1" fill="#000"/><rect x="1152" y="724" width="3" height="1" fill="#000"/><rect x="1158" y="724" width="3" height="1" fill="#000"/><rect x="1164" y="724" width="3" height="1" fill="#000"/><rect x="1170" y="724" width="3" height="1" fill="#000"/><rect x="1176" y="724" width="3" height="1" fill="#000"/><rect x="1182" y="724" width="3" height="1" fill="#000"/><rect x="1188" y="724" width="3" height="1" fill="#000"/><rect x="1194" y="724" width="3" height="1" fill="#000"/><rect x="1200" y="724" width="3" height="1" fill="#000"/><rect x="1206" y="724" width="3" height="1" fill="#000"/><rect x="1212" y="724" width="3" height="1" fill="#000"/><rect x="1218" y="724" width="3" height="1" fill="#000"/><rect x="1224" y="724" width="3" height="1" fill="#000"/><rect x="1230" y="724" width="3" height="1" fill="#000"/><rect x="1236" y="724" width="3" height="1" fill="#000"/><rect x="1242" y="724" width="3" height="1" fill="#000"/><rect x="1248" y="724" width="3" height="1" fill="#000"/><rect x="1254" y="724" width="3" height="1" fill="#000"/><rect x="1260" y="724" width="3" height="1" fill="#000"/><rect x="1266" y="724" width="3" height="1" fill="#000"/><rect x="1272" y="724" width="3" height="1" fill="#000"/><rect x="1278" y="724" width="3" height="1" fill="#000"/><rect x="1284" y="724" width="3" height="1" fill="#000"/><rect x="1290" y="724" width="3" height="1" fill="#000"/><rect x="1296" y="724" width="3" height="1" fill="#000"/><rect x="1302" y="724" width="3" height="1" fill="#000"/><rect x="1308" y="724" width="3" height="1" fill="#000"/><rect x="1314" y="724" width="3" height="1" fill="#000"/><rect x="1320" y="724" width="3" height="1" fill="#000"/><rect x="1326" y="724" width="3" height="1" fill="#000"/><rect x="1332" y="724" width="3" height="1" fill="#000"/><rect x="1338" y="724" width="3" height="1" fill="#000"/><rect x="1344" y="724" width="3" height="1" fill="#000"/><rect x="1350" y="724" width="3" height="1" fill="#000"/><rect x="1356" y="724" width="3" height="1" fill="#000"/><rect x="1362" y="724" width="3" height="1" fill="#000"/><rect x="1368" y="724" width="3" height="1" fill="#000"/><rect x="1374" y="724" width="3" height="1" fill="#000"/><rect x="1380" y="724" width="3" height="1" fill="#000"/><rect x="1386" y="724" width="3" height="1" fill="#000"/><rect x="1392" y="724" width="3" height="1" fill="#000"/><rect x="1398" y="724" width="3" height="1" fill="#000"/><rect x="1404" y="724" width="3" height="1" fill="#000"/><rect x="1410" y="724" width="3" height="1" fill="#000"/><rect x="1416" y="724" width="3" height="1" fill="#000"/><rect x="1422" y="724" width="3" height="1" fill="#000"/><rect x="1428" y="724" width="3" height="1" fill="#000"/><rect x="1434" y="724" width="3" height="1" fill="#000"/><rect x="1440" y="724" width="3" height="1" fill="#000"/><rect x="1446" y="724" width="3" height="1" fill="#000"/><rect x="1452" y="724" width="3" height="1" fill="#000"/><rect x="1458" y="724" width="3" height="1" fill="#000"/><rect x="1464" y="724" width="3" height="1" fill="#000"/><rect x="1470" y="724" width="3" height="1" fill="#000"/><rect x="1476" y="724" width="3" height="1" fill="#000"/><rect x="1482" y="724" width="3" height="1" fill="#000"/><rect x="1488" y="724" width="3" height="1" fill="#000"/><rect x="1494" y="724" width="3" height="1" fill="#000"/><rect x="1500" y="724" width="3" height="1" fill="#000"/><rect x="1506" y="724" width="3" height="1" fill="#000"/><rect x="1512" y="724" width="3" height="1" fill="#000"/><rect x="1518" y="724" width="3" height="1" fill="#000"/><rect x="1524" y="724" width="3" height="1" fill="#000"/><rect x="1530" y="724" width="3" height="1" fill="#000"/><rect x="1536" y="724" width="3" height="1" fill="#000"/><rect x="1542" y="724" width="3" height="1" fill="#000"/><rect x="1548" y="724" width="3" height="1" fill="#000"/><rect x="1554" y="724" width="3" height="1" fill="#000"/><rect x="1560" y="724" width="3" height="1" fill="#000"/><rect x="1566" y="724" width="3" height="1" fill="#000"/><rect x="1572" y="724" width="3" height="1" fill="#000"/><rect x="1578" y="724" width="3" height="1" fill="#000"/><rect x="1584" y="724" width="3" height="1" fill="#000"/><rect x="1590" y="724" width="3" height="1" fill="#000"/><rect x="1596" y="724" width="3" height="1" fill="#000"/><rect x="1602" y="724" width="3" height="1" fill="#000"/><rect x="1608" y="724" width="3" height="1" fill="#000"/><rect x="1614" y="724" width="2" height="1" fill="#000"/><rect x="6" y="755" width="3" height="1" fill="#000"/><rect x="12" y="755" width="3" height="1" fill="#000"/><rect x="18" y="755" width="3" height="1" fill="#000"/><rect x="24" y="755" width="3" height="1" fill="#000"/><rect x="30" y="755" width="3" height="1" fill="#000"/><rect x="36" y="755" width="3" height="1" fill="#000"/><rect x="42" y="755" width="3" height="1" fill="#000"/><rect x="48" y="755" width="3" height="1" fill="#000"/><rect x="54" y="755" width="3" height="1" fill="#000"/><rect x="60" y="755" width="3" height="1" fill="#000"/><rect x="66" y="755" width="3" height="1" fill="#000"/><rect x="72" y="755" width="3" height="1" fill="#000"/><rect x="78" y="755" width="3" height="1" fill="#000"/><rect x="84" y="755" width="3" height="1" fill="#000"/><rect x="90" y="755" width="3" height="1" fill="#000"/><rect x="96" y="755" width="3" height="1" fill="#000"/><rect x="102" y="755" width="3" height="1" fill="#000"/><rect x="108" y="755" width="3" height="1" fill="#000"/><rect x="114" y="755" width="3" height="1" fill="#000"/><rect x="120" y="755" width="3" height="1" fill="#000"/><rect x="126" y="755" width="3" height="1" fill="#000"/><rect x="132" y="755" width="3" height="1" fill="#000"/><rect x="138" y="755" width="3" height="1" fill="#000"/><rect x="144" y="755" width="3" height="1" fill="#000"/><rect x="150" y="755" width="3" height="1" fill="#000"/><rect x="156" y="755" width="3" height="1" fill="#000"/><rect x="162" y="755" width="3" height="1" fill="#000"/><rect x="168" y="755" width="3" height="1" fill="#000"/><rect x="174" y="755" width="3" height="1" fill="#000"/><rect x="180" y="755" width="3" height="1" fill="#000"/><rect x="186" y="755" width="3" height="1" fill="#000"/><rect x="192" y="755" width="3" height="1" fill="#000"/><rect x="198" y="755" width="3" height="1" fill="#000"/><rect x="204" y="755" width="3" height="1" fill="#000"/><rect x="210" y="755" width="3" height="1" fill="#000"/><rect x="216" y="755" width="3" height="1" fill="#000"/><rect x="222" y="755" width="3" height="1" fill="#000"/><rect x="228" y="755" width="3" height="1" fill="#000"/><rect x="234" y="755" width="3" height="1" fill="#000"/><rect x="240" y="755" width="3" height="1" fill="#000"/><rect x="246" y="755" width="3" height="1" fill="#000"/><rect x="252" y="755" width="3" height="1" fill="#000"/><rect x="258" y="755" width="3" height="1" fill="#000"/><rect x="264" y="755" width="3" height="1" fill="#000"/><rect x="270" y="755" width="3" height="1" fill="#000"/><rect x="276" y="755" width="3" height="1" fill="#000"/><rect x="282" y="755" width="3" height="1" fill="#000"/><rect x="288" y="755" width="3" height="1" fill="#000"/><rect x="294" y="755" width="3" height="1" fill="#000"/><rect x="300" y="755" width="3" height="1" fill="#000"/><rect x="306" y="755" width="3" height="1" fill="#000"/><rect x="312" y="755" width="3" height="1" fill="#000"/><rect x="318" y="755" width="3" height="1" fill="#000"/><rect x="324" y="755" width="3" height="1" fill="#000"/><rect x="330" y="755" width="3" height="1" fill="#000"/><rect x="336" y="755" width="3" height="1" fill="#000"/><rect x="342" y="755" width="3" height="1" fill="#000"/><rect x="348" y="755" width="3" height="1" fill="#000"/><rect x="354" y="755" width="3" height="1" fill="#000"/><rect x="360" y="755" width="3" height="1" fill="#000"/><rect x="366" y="755" width="3" height="1" fill="#000"/><rect x="372" y="755" width="3" height="1" fill="#000"/><rect x="378" y="755" width="3" height="1" fill="#000"/><rect x="384" y="755" width="3" height="1" fill="#000"/><rect x="390" y="755" width="3" height="1" fill="#000"/><rect x="396" y="755" width="3" height="1" fill="#000"/><rect x="402" y="755" width="3" height="1" fill="#000"/><rect x="408" y="755" width="3" height="1" fill="#000"/><rect x="414" y="755" width="3" height="1" fill="#000"/><rect x="420" y="755" width="3" height="1" fill="#000"/><rect x="426" y="755" width="3" height="1" fill="#000"/><rect x="432" y="755" width="3" height="1" fill="#000"/><rect x="438" y="755" width="3" height="1" fill="#000"/><rect x="444" y="755" width="3" height="1" fill="#000"/><rect x="450" y="755" width="3" height="1" fill="#000"/><rect x="456" y="755" width="3" height="1" fill="#000"/><rect x="462" y="755" width="3" height="1" fill="#000"/><rect x="468" y="755" width="3" height="1" fill="#000"/><rect x="474" y="755" width="3" height="1" fill="#000"/><rect x="480" y="755" width="3" height="1" fill="#000"/><rect x="486" y="755" width="3" height="1" fill="#000"/><rect x="492" y="755" width="3" height="1" fill="#000"/><rect x="498" y="755" width="3" height="1" fill="#000"/><rect x="504" y="755" width="3" height="1" fill="#000"/><rect x="510" y="755" width="3" height="1" fill="#000"/><rect x="516" y="755" width="3" height="1" fill="#000"/><rect x="522" y="755" width="3" height="1" fill="#000"/><rect x="528" y="755" width="3" height="1" fill="#000"/><rect x="534" y="755" width="3" height="1" fill="#000"/><rect x="540" y="755" width="3" height="1" fill="#000"/><rect x="546" y="755" width="3" height="1" fill="#000"/><rect x="552" y="755" width="3" height="1" fill="#000"/><rect x="558" y="755" width="3" height="1" fill="#000"/><rect x="564" y="755" width="3" height="1" fill="#000"/><rect x="570" y="755" width="3" height="1" fill="#000"/><rect x="576" y="755" width="3" height="1" fill="#000"/><rect x="582" y="755" width="3" height="1" fill="#000"/><rect x="588" y="755" width="3" height="1" fill="#000"/><rect x="594" y="755" width="3" height="1" fill="#000"/><rect x="600" y="755" width="3" height="1" fill="#000"/><rect x="606" y="755" width="3" height="1" fill="#000"/><rect x="612" y="755" width="3" height="1" fill="#000"/><rect x="618" y="755" width="3" height="1" fill="#000"/><rect x="624" y="755" width="3" height="1" fill="#000"/><rect x="630" y="755" width="3" height="1" fill="#000"/><rect x="636" y="755" width="3" height="1" fill="#000"/><rect x="642" y="755" width="3" height="1" fill="#000"/><rect x="648" y="755" width="3" height="1" fill="#000"/><rect x="654" y="755" width="3" height="1" fill="#000"/><rect x="660" y="755" width="3" height="1" fill="#000"/><rect x="666" y="755" width="3" height="1" fill="#000"/><rect x="672" y="755" width="3" height="1" fill="#000"/><rect x="678" y="755" width="3" height="1" fill="#000"/><rect x="684" y="755" width="3" height="1" fill="#000"/><rect x="690" y="755" width="3" height="1" fill="#000"/><rect x="696" y="755" width="3" height="1" fill="#000"/><rect x="702" y="755" width="3" height="1" fill="#000"/><rect x="708" y="755" width="3" height="1" fill="#000"/><rect x="714" y="755" width="3" height="1" fill="#000"/><rect x="720" y="755" width="3" height="1" fill="#000"/><rect x="726" y="755" width="3" height="1" fill="#000"/><rect x="732" y="755" width="3" height="1" fill="#000"/><rect x="738" y="755" width="3" height="1" fill="#000"/><rect x="744" y="755" width="3" height="1" fill="#000"/><rect x="750" y="755" width="3" height="1" fill="#000"/><rect x="756" y="755" width="3" height="1" fill="#000"/><rect x="762" y="755" width="3" height="1" fill="#000"/><rect x="768" y="755" width="3" height="1" fill="#000"/><rect x="774" y="755" width="3" height="1" fill="#000"/><rect x="780" y="755" width="3" height="1" fill="#000"/><rect x="786" y="755" width="3" height="1" fill="#000"/><rect x="792" y="755" width="3" height="1" fill="#000"/><rect x="798" y="755" width="3" height="1" fill="#000"/><rect x="804" y="755" width="3" height="1" fill="#000"/><rect x="810" y="755" width="3" height="1" fill="#000"/><rect x="816" y="755" width="3" height="1" fill="#000"/><rect x="822" y="755" width="3" height="1" fill="#000"/><rect x="828" y="755" width="3" height="1" fill="#000"/><rect x="834" y="755" width="3" height="1" fill="#000"/><rect x="840" y="755" width="3" height="1" fill="#000"/><rect x="846" y="755" width="3" height="1" fill="#000"/><rect x="852" y="755" width="3" height="1" fill="#000"/><rect x="858" y="755" width="3" height="1" fill="#000"/><rect x="864" y="755" width="3" height="1" fill="#000"/><rect x="870" y="755" width="3" height="1" fill="#000"/><rect x="876" y="755" width="3" height="1" fill="#000"/><rect x="882" y="755" width="3" height="1" fill="#000"/><rect x="888" y="755" width="3" height="1" fill="#000"/><rect x="894" y="755" width="3" height="1" fill="#000"/><rect x="900" y="755" width="3" height="1" fill="#000"/><rect x="906" y="755" width="3" height="1" fill="#000"/><rect x="912" y="755" width="3" height="1" fill="#000"/><rect x="918" y="755" width="3" height="1" fill="#000"/><rect x="924" y="755" width="3" height="1" fill="#000"/><rect x="930" y="755" width="3" height="1" fill="#000"/><rect x="936" y="755" width="3" height="1" fill="#000"/><rect x="942" y="755" width="3" height="1" fill="#000"/><rect x="948" y="755" width="3" height="1" fill="#000"/><rect x="954" y="755" width="3" height="1" fill="#000"/><rect x="960" y="755" width="3" height="1" fill="#000"/><rect x="966" y="755" width="3" height="1" fill="#000"/><rect x="972" y="755" width="3" height="1" fill="#000"/><rect x="978" y="755" width="3" height="1" fill="#000"/><rect x="984" y="755" width="3" height="1" fill="#000"/><rect x="990" y="755" width="3" height="1" fill="#000"/><rect x="996" y="755" width="3" height="1" fill="#000"/><rect x="1002" y="755" width="3" height="1" fill="#000"/><rect x="1008" y="755" width="3" height="1" fill="#000"/><rect x="1014" y="755" width="3" height="1" fill="#000"/><rect x="1020" y="755" width="3" height="1" fill="#000"/><rect x="1026" y="755" width="3" height="1" fill="#000"/><rect x="1032" y="755" width="3" height="1" fill="#000"/><rect x="1038" y="755" width="3" height="1" fill="#000"/><rect x="1044" y="755" width="3" height="1" fill="#000"/><rect x="1050" y="755" width="3" height="1" fill="#000"/><rect x="1056" y="755" width="3" height="1" fill="#000"/><rect x="1062" y="755" width="3" height="1" fill="#000"/><rect x="1068" y="755" width="3" height="1" fill="#000"/><rect x="1074" y="755" width="3" height="1" fill="#000"/><rect x="1080" y="755" width="3" height="1" fill="#000"/><rect x="1086" y="755" width="3" height="1" fill="#000"/><rect x="1092" y="755" width="3" height="1" fill="#000"/><rect x="1098" y="755" width="3" height="1" fill="#000"/><rect x="1104" y="755" width="3" height="1" fill="#000"/><rect x="1110" y="755" width="3" height="1" fill="#000"/><rect x="1116" y="755" width="3" height="1" fill="#000"/><rect x="1122" y="755" width="3" height="1" fill="#000"/><rect x="1128" y="755" width="3" height="1" fill="#000"/><rect x="1134" y="755" width="3" height="1" fill="#000"/><rect x="1140" y="755" width="3" height="1" fill="#000"/><rect x="1146" y="755" width="3" height="1" fill="#000"/><rect x="1152" y="755" width="3" height="1" fill="#000"/><rect x="1158" y="755" width="3" height="1" fill="#000"/><rect x="1164" y="755" width="3" height="1" fill="#000"/><rect x="1170" y="755" width="3" height="1" fill="#000"/><rect x="1176" y="755" width="3" height="1" fill="#000"/><rect x="1182" y="755" width="3" height="1" fill="#000"/><rect x="1188" y="755" width="3" height="1" fill="#000"/><rect x="1194" y="755" width="3" height="1" fill="#000"/><rect x="1200" y="755" width="3" height="1" fill="#000"/><rect x="1206" y="755" width="3" height="1" fill="#000"/><rect x="1212" y="755" width="3" height="1" fill="#000"/><rect x="1218" y="755" width="3" height="1" fill="#000"/><rect x="1224" y="755" width="3" height="1" fill="#000"/><rect x="1230" y="755" width="3" height="1" fill="#000"/><rect x="1236" y="755" width="3" height="1" fill="#000"/><rect x="1242" y="755" width="3" height="1" fill="#000"/><rect x="1248" y="755" width="3" height="1" fill="#000"/><rect x="1254" y="755" width="3" height="1" fill="#000"/><rect x="1260" y="755" width="3" height="1" fill="#000"/><rect x="1266" y="755" width="3" height="1" fill="#000"/><rect x="1272" y="755" width="3" height="1" fill="#000"/><rect x="1278" y="755" width="3" height="1" fill="#000"/><rect x="1284" y="755" width="3" height="1" fill="#000"/><rect x="1290" y="755" width="3" height="1" fill="#000"/><rect x="1296" y="755" width="3" height="1" fill="#000"/><rect x="1302" y="755" width="3" height="1" fill="#000"/><rect x="1308" y="755" width="3" height="1" fill="#000"/><rect x="1314" y="755" width="3" height="1" fill="#000"/><rect x="1320" y="755" width="3" height="1" fill="#000"/><rect x="1326" y="755" width="3" height="1" fill="#000"/><rect x="1332" y="755" width="3" height="1" fill="#000"/><rect x="1338" y="755" width="3" height="1" fill="#000"/><rect x="1344" y="755" width="3" height="1" fill="#000"/><rect x="1350" y="755" width="3" height="1" fill="#000"/><rect x="1356" y="755" width="3" height="1" fill="#000"/><rect x="1362" y="755" width="3" height="1" fill="#000"/><rect x="1368" y="755" width="3" height="1" fill="#000"/><rect x="1374" y="755" width="3" height="1" fill="#000"/><rect x="1380" y="755" width="3" height="1" fill="#000"/><rect x="1386" y="755" width="3" height="1" fill="#000"/><rect x="1392" y="755" width="3" height="1" fill="#000"/><rect x="1398" y="755" width="3" height="1" fill="#000"/><rect x="1404" y="755" width="3" height="1" fill="#000"/><rect x="1410" y="755" width="3" height="1" fill="#000"/><rect x="1416" y="755" width="3" height="1" fill="#000"/><rect x="1422" y="755" width="3" height="1" fill="#000"/><rect x="1428" y="755" width="3" height="1" fill="#000"/><rect x="1434" y="755" width="3" height="1" fill="#000"/><rect x="1440" y="755" width="3" height="1" fill="#000"/><rect x="1446" y="755" width="3" height="1" fill="#000"/><rect x="1452" y="755" width="3" height="1" fill="#000"/><rect x="1458" y="755" width="3" height="1" fill="#000"/><rect x="1464" y="755" width="3" height="1" fill="#000"/><rect x="1470" y="755" width="3" height="1" fill="#000"/><rect x="1476" y="755" width="3" height="1" fill="#000"/><rect x="1482" y="755" width="3" height="1" fill="#000"/><rect x="1488" y="755" width="3" height="1" fill="#000"/><rect x="1494" y="755" width="3" height="1" fill="#000"/><rect x="1500" y="755" width="3" height="1" fill="#000"/><rect x="1506" y="755" width="3" height="1" fill="#000"/><rect x="1512" y="755" width="3" height="1" fill="#000"/><rect x="1518" y="755" width="3" height="1" fill="#000"/><rect x="1524" y="755" width="3" height="1" fill="#000"/><rect x="1530" y="755" width="3" height="1" fill="#000"/><rect x="1536" y="755" width="3" height="1" fill="#000"/><rect x="1542" y="755" width="3" height="1" fill="#000"/><rect x="1548" y="755" width="3" height="1" fill="#000"/><rect x="1554" y="755" width="3" height="1" fill="#000"/><rect x="1560" y="755" width="3" height="1" fill="#000"/><rect x="1566" y="755" width="3" height="1" fill="#000"/><rect x="1572" y="755" width="3" height="1" fill="#000"/><rect x="1578" y="755" width="3" height="1" fill="#000"/><rect x="1584" y="755" width="3" height="1" fill="#000"/><rect x="1590" y="755" width="3" height="1" fill="#000"/><rect x="1596" y="755" width="3" height="1" fill="#000"/><rect x="1602" y="755" width="3" height="1" fill="#000"/><rect x="1608" y="755" width="3" height="1" fill="#000"/><rect x="1614" y="755" width="2" height="1" fill="#000"/><rect x="6" y="792" width="3" height="1" fill="#000"/><rect x="12" y="792" width="3" height="1" fill="#000"/><rect x="18" y="792" width="3" height="1" fill="#000"/><rect x="24" y="792" width="3" height="1" fill="#000"/><rect x="30" y="792" width="3" height="1" fill="#000"/><rect x="36" y="792" width="3" height="1" fill="#000"/><rect x="42" y="792" width="3" height="1" fill="#000"/><rect x="48" y="792" width="3" height="1" fill="#000"/><rect x="54" y="792" width="3" height="1" fill="#000"/><rect x="60" y="792" width="3" height="1" fill="#000"/><rect x="66" y="792" width="3" height="1" fill="#000"/><rect x="72" y="792" width="3" height="1" fill="#000"/><rect x="78" y="792" width="3" height="1" fill="#000"/><rect x="84" y="792" width="3" height="1" fill="#000"/><rect x="90" y="792" width="3" height="1" fill="#000"/><rect x="96" y="792" width="3" height="1" fill="#000"/><rect x="102" y="792" width="3" height="1" fill="#000"/><rect x="108" y="792" width="3" height="1" fill="#000"/><rect x="114" y="792" width="3" height="1" fill="#000"/><rect x="120" y="792" width="3" height="1" fill="#000"/><rect x="126" y="792" width="3" height="1" fill="#000"/><rect x="132" y="792" width="3" height="1" fill="#000"/><rect x="138" y="792" width="3" height="1" fill="#000"/><rect x="144" y="792" width="3" height="1" fill="#000"/><rect x="150" y="792" width="3" height="1" fill="#000"/><rect x="156" y="792" width="3" height="1" fill="#000"/><rect x="162" y="792" width="3" height="1" fill="#000"/><rect x="168" y="792" width="3" height="1" fill="#000"/><rect x="174" y="792" width="3" height="1" fill="#000"/><rect x="180" y="792" width="3" height="1" fill="#000"/><rect x="186" y="792" width="3" height="1" fill="#000"/><rect x="192" y="792" width="3" height="1" fill="#000"/><rect x="198" y="792" width="3" height="1" fill="#000"/><rect x="204" y="792" width="3" height="1" fill="#000"/><rect x="210" y="792" width="3" height="1" fill="#000"/><rect x="216" y="792" width="3" height="1" fill="#000"/><rect x="222" y="792" width="3" height="1" fill="#000"/><rect x="228" y="792" width="3" height="1" fill="#000"/><rect x="234" y="792" width="3" height="1" fill="#000"/><rect x="240" y="792" width="3" height="1" fill="#000"/><rect x="246" y="792" width="3" height="1" fill="#000"/><rect x="252" y="792" width="3" height="1" fill="#000"/><rect x="258" y="792" width="3" height="1" fill="#000"/><rect x="264" y="792" width="3" height="1" fill="#000"/><rect x="270" y="792" width="3" height="1" fill="#000"/><rect x="276" y="792" width="3" height="1" fill="#000"/><rect x="282" y="792" width="3" height="1" fill="#000"/><rect x="288" y="792" width="3" height="1" fill="#000"/><rect x="294" y="792" width="3" height="1" fill="#000"/><rect x="300" y="792" width="3" height="1" fill="#000"/><rect x="306" y="792" width="3" height="1" fill="#000"/><rect x="312" y="792" width="3" height="1" fill="#000"/><rect x="318" y="792" width="3" height="1" fill="#000"/><rect x="324" y="792" width="3" height="1" fill="#000"/><rect x="330" y="792" width="3" height="1" fill="#000"/><rect x="336" y="792" width="3" height="1" fill="#000"/><rect x="342" y="792" width="3" height="1" fill="#000"/><rect x="348" y="792" width="3" height="1" fill="#000"/><rect x="354" y="792" width="3" height="1" fill="#000"/><rect x="360" y="792" width="3" height="1" fill="#000"/><rect x="366" y="792" width="3" height="1" fill="#000"/><rect x="372" y="792" width="3" height="1" fill="#000"/><rect x="378" y="792" width="3" height="1" fill="#000"/><rect x="384" y="792" width="3" height="1" fill="#000"/><rect x="390" y="792" width="3" height="1" fill="#000"/><rect x="396" y="792" width="3" height="1" fill="#000"/><rect x="402" y="792" width="3" height="1" fill="#000"/><rect x="408" y="792" width="3" height="1" fill="#000"/><rect x="414" y="792" width="3" height="1" fill="#000"/><rect x="420" y="792" width="3" height="1" fill="#000"/><rect x="426" y="792" width="3" height="1" fill="#000"/><rect x="432" y="792" width="3" height="1" fill="#000"/><rect x="438" y="792" width="3" height="1" fill="#000"/><rect x="444" y="792" width="3" height="1" fill="#000"/><rect x="450" y="792" width="3" height="1" fill="#000"/><rect x="456" y="792" width="3" height="1" fill="#000"/><rect x="462" y="792" width="3" height="1" fill="#000"/><rect x="468" y="792" width="3" height="1" fill="#000"/><rect x="474" y="792" width="3" height="1" fill="#000"/><rect x="480" y="792" width="3" height="1" fill="#000"/><rect x="486" y="792" width="3" height="1" fill="#000"/><rect x="492" y="792" width="3" height="1" fill="#000"/><rect x="498" y="792" width="3" height="1" fill="#000"/><rect x="504" y="792" width="3" height="1" fill="#000"/><rect x="510" y="792" width="3" height="1" fill="#000"/><rect x="516" y="792" width="3" height="1" fill="#000"/><rect x="522" y="792" width="3" height="1" fill="#000"/><rect x="528" y="792" width="3" height="1" fill="#000"/><rect x="534" y="792" width="3" height="1" fill="#000"/><rect x="540" y="792" width="3" height="1" fill="#000"/><rect x="546" y="792" width="3" height="1" fill="#000"/><rect x="552" y="792" width="3" height="1" fill="#000"/><rect x="558" y="792" width="3" height="1" fill="#000"/><rect x="564" y="792" width="3" height="1" fill="#000"/><rect x="570" y="792" width="3" height="1" fill="#000"/><rect x="576" y="792" width="3" height="1" fill="#000"/><rect x="582" y="792" width="3" height="1" fill="#000"/><rect x="588" y="792" width="3" height="1" fill="#000"/><rect x="594" y="792" width="3" height="1" fill="#000"/><rect x="600" y="792" width="3" height="1" fill="#000"/><rect x="606" y="792" width="3" height="1" fill="#000"/><rect x="612" y="792" width="3" height="1" fill="#000"/><rect x="618" y="792" width="3" height="1" fill="#000"/><rect x="624" y="792" width="3" height="1" fill="#000"/><rect x="630" y="792" width="3" height="1" fill="#000"/><rect x="636" y="792" width="3" height="1" fill="#000"/><rect x="642" y="792" width="3" height="1" fill="#000"/><rect x="648" y="792" width="3" height="1" fill="#000"/><rect x="654" y="792" width="3" height="1" fill="#000"/><rect x="660" y="792" width="3" height="1" fill="#000"/><rect x="666" y="792" width="3" height="1" fill="#000"/><rect x="672" y="792" width="3" height="1" fill="#000"/><rect x="678" y="792" width="3" height="1" fill="#000"/><rect x="684" y="792" width="3" height="1" fill="#000"/><rect x="690" y="792" width="3" height="1" fill="#000"/><rect x="696" y="792" width="3" height="1" fill="#000"/><rect x="702" y="792" width="3" height="1" fill="#000"/><rect x="708" y="792" width="3" height="1" fill="#000"/><rect x="714" y="792" width="3" height="1" fill="#000"/><rect x="720" y="792" width="3" height="1" fill="#000"/><rect x="726" y="792" width="3" height="1" fill="#000"/><rect x="732" y="792" width="3" height="1" fill="#000"/><rect x="738" y="792" width="3" height="1" fill="#000"/><rect x="744" y="792" width="3" height="1" fill="#000"/><rect x="750" y="792" width="3" height="1" fill="#000"/><rect x="756" y="792" width="3" height="1" fill="#000"/><rect x="762" y="792" width="3" height="1" fill="#000"/><rect x="768" y="792" width="3" height="1" fill="#000"/><rect x="774" y="792" width="3" height="1" fill="#000"/><rect x="780" y="792" width="3" height="1" fill="#000"/><rect x="786" y="792" width="3" height="1" fill="#000"/><rect x="792" y="792" width="3" height="1" fill="#000"/><rect x="798" y="792" width="3" height="1" fill="#000"/><rect x="804" y="792" width="3" height="1" fill="#000"/><rect x="810" y="792" width="3" height="1" fill="#000"/><rect x="816" y="792" width="3" height="1" fill="#000"/><rect x="822" y="792" width="3" height="1" fill="#000"/><rect x="828" y="792" width="3" height="1" fill="#000"/><rect x="834" y="792" width="3" height="1" fill="#000"/><rect x="840" y="792" width="3" height="1" fill="#000"/><rect x="846" y="792" width="3" height="1" fill="#000"/><rect x="852" y="792" width="3" height="1" fill="#000"/><rect x="858" y="792" width="3" height="1" fill="#000"/><rect x="864" y="792" width="3" height="1" fill="#000"/><rect x="870" y="792" width="3" height="1" fill="#000"/><rect x="876" y="792" width="3" height="1" fill="#000"/><rect x="882" y="792" width="3" height="1" fill="#000"/><rect x="888" y="792" width="3" height="1" fill="#000"/><rect x="894" y="792" width="3" height="1" fill="#000"/><rect x="900" y="792" width="3" height="1" fill="#000"/><rect x="906" y="792" width="3" height="1" fill="#000"/><rect x="912" y="792" width="3" height="1" fill="#000"/><rect x="918" y="792" width="3" height="1" fill="#000"/><rect x="924" y="792" width="3" height="1" fill="#000"/><rect x="930" y="792" width="3" height="1" fill="#000"/><rect x="936" y="792" width="3" height="1" fill="#000"/><rect x="942" y="792" width="3" height="1" fill="#000"/><rect x="948" y="792" width="3" height="1" fill="#000"/><rect x="954" y="792" width="3" height="1" fill="#000"/><rect x="960" y="792" width="3" height="1" fill="#000"/><rect x="966" y="792" width="3" height="1" fill="#000"/><rect x="972" y="792" width="3" height="1" fill="#000"/><rect x="978" y="792" width="3" height="1" fill="#000"/><rect x="984" y="792" width="3" height="1" fill="#000"/><rect x="990" y="792" width="3" height="1" fill="#000"/><rect x="996" y="792" width="3" height="1" fill="#000"/><rect x="1002" y="792" width="3" height="1" fill="#000"/><rect x="1008" y="792" width="3" height="1" fill="#000"/><rect x="1014" y="792" width="3" height="1" fill="#000"/><rect x="1020" y="792" width="3" height="1" fill="#000"/><rect x="1026" y="792" width="3" height="1" fill="#000"/><rect x="1032" y="792" width="3" height="1" fill="#000"/><rect x="1038" y="792" width="3" height="1" fill="#000"/><rect x="1044" y="792" width="3" height="1" fill="#000"/><rect x="1050" y="792" width="3" height="1" fill="#000"/><rect x="1056" y="792" width="3" height="1" fill="#000"/><rect x="1062" y="792" width="3" height="1" fill="#000"/><rect x="1068" y="792" width="3" height="1" fill="#000"/><rect x="1074" y="792" width="3" height="1" fill="#000"/><rect x="1080" y="792" width="3" height="1" fill="#000"/><rect x="1086" y="792" width="3" height="1" fill="#000"/><rect x="1092" y="792" width="3" height="1" fill="#000"/><rect x="1098" y="792" width="3" height="1" fill="#000"/><rect x="1104" y="792" width="3" height="1" fill="#000"/><rect x="1110" y="792" width="3" height="1" fill="#000"/><rect x="1116" y="792" width="3" height="1" fill="#000"/><rect x="1122" y="792" width="3" height="1" fill="#000"/><rect x="1128" y="792" width="3" height="1" fill="#000"/><rect x="1134" y="792" width="3" height="1" fill="#000"/><rect x="1140" y="792" width="3" height="1" fill="#000"/><rect x="1146" y="792" width="3" height="1" fill="#000"/><rect x="1152" y="792" width="3" height="1" fill="#000"/><rect x="1158" y="792" width="3" height="1" fill="#000"/><rect x="1164" y="792" width="3" height="1" fill="#000"/><rect x="1170" y="792" width="3" height="1" fill="#000"/><rect x="1176" y="792" width="3" height="1" fill="#000"/><rect x="1182" y="792" width="3" height="1" fill="#000"/><rect x="1188" y="792" width="3" height="1" fill="#000"/><rect x="1194" y="792" width="3" height="1" fill="#000"/><rect x="1200" y="792" width="3" height="1" fill="#000"/><rect x="1206" y="792" width="3" height="1" fill="#000"/><rect x="1212" y="792" width="3" height="1" fill="#000"/><rect x="1218" y="792" width="3" height="1" fill="#000"/><rect x="1224" y="792" width="3" height="1" fill="#000"/><rect x="1230" y="792" width="3" height="1" fill="#000"/><rect x="1236" y="792" width="3" height="1" fill="#000"/><rect x="1242" y="792" width="3" height="1" fill="#000"/><rect x="1248" y="792" width="3" height="1" fill="#000"/><rect x="1254" y="792" width="3" height="1" fill="#000"/><rect x="1260" y="792" width="3" height="1" fill="#000"/><rect x="1266" y="792" width="3" height="1" fill="#000"/><rect x="1272" y="792" width="3" height="1" fill="#000"/><rect x="1278" y="792" width="3" height="1" fill="#000"/><rect x="1284" y="792" width="3" height="1" fill="#000"/><rect x="1290" y="792" width="3" height="1" fill="#000"/><rect x="1296" y="792" width="3" height="1" fill="#000"/><rect x="1302" y="792" width="3" height="1" fill="#000"/><rect x="1308" y="792" width="3" height="1" fill="#000"/><rect x="1314" y="792" width="3" height="1" fill="#000"/><rect x="1320" y="792" width="3" height="1" fill="#000"/><rect x="1326" y="792" width="3" height="1" fill="#000"/><rect x="1332" y="792" width="3" height="1" fill="#000"/><rect x="1338" y="792" width="3" height="1" fill="#000"/><rect x="1344" y="792" width="3" height="1" fill="#000"/><rect x="1350" y="792" width="3" height="1" fill="#000"/><rect x="1356" y="792" width="3" height="1" fill="#000"/><rect x="1362" y="792" width="3" height="1" fill="#000"/><rect x="1368" y="792" width="3" height="1" fill="#000"/><rect x="1374" y="792" width="3" height="1" fill="#000"/><rect x="1380" y="792" width="3" height="1" fill="#000"/><rect x="1386" y="792" width="3" height="1" fill="#000"/><rect x="1392" y="792" width="3" height="1" fill="#000"/><rect x="1398" y="792" width="3" height="1" fill="#000"/><rect x="1404" y="792" width="3" height="1" fill="#000"/><rect x="1410" y="792" width="3" height="1" fill="#000"/><rect x="1416" y="792" width="3" height="1" fill="#000"/><rect x="1422" y="792" width="3" height="1" fill="#000"/><rect x="1428" y="792" width="3" height="1" fill="#000"/><rect x="1434" y="792" width="3" height="1" fill="#000"/><rect x="1440" y="792" width="3" height="1" fill="#000"/><rect x="1446" y="792" width="3" height="1" fill="#000"/><rect x="1452" y="792" width="3" height="1" fill="#000"/><rect x="1458" y="792" width="3" height="1" fill="#000"/><rect x="1464" y="792" width="3" height="1" fill="#000"/><rect x="1470" y="792" width="3" height="1" fill="#000"/><rect x="1476" y="792" width="3" height="1" fill="#000"/><rect x="1482" y="792" width="3" height="1" fill="#000"/><rect x="1488" y="792" width="3" height="1" fill="#000"/><rect x="1494" y="792" width="3" height="1" fill="#000"/><rect x="1500" y="792" width="3" height="1" fill="#000"/><rect x="1506" y="792" width="3" height="1" fill="#000"/><rect x="1512" y="792" width="3" height="1" fill="#000"/><rect x="1518" y="792" width="3" height="1" fill="#000"/><rect x="1524" y="792" width="3" height="1" fill="#000"/><rect x="1530" y="792" width="3" height="1" fill="#000"/><rect x="1536" y="792" width="3" height="1" fill="#000"/><rect x="1542" y="792" width="3" height="1" fill="#000"/><rect x="1548" y="792" width="3" height="1" fill="#000"/><rect x="1554" y="792" width="3" height="1" fill="#000"/><rect x="1560" y="792" width="3" height="1" fill="#000"/><rect x="1566" y="792" width="3" height="1" fill="#000"/><rect x="1572" y="792" width="3" height="1" fill="#000"/><rect x="1578" y="792" width="3" height="1" fill="#000"/><rect x="1584" y="792" width="3" height="1" fill="#000"/><rect x="1590" y="792" width="3" height="1" fill="#000"/><rect x="1596" y="792" width="3" height="1" fill="#000"/><rect x="1602" y="792" width="3" height="1" fill="#000"/><rect x="1608" y="792" width="3" height="1" fill="#000"/><rect x="1614" y="792" width="2" height="1" fill="#000"/>
<rect x="1617" y="633" width="2" height="1" fill="#000"/><rect x="1617" y="699" width="1" height="1" fill="#000"/><rect x="1617" y="704" width="1" height="1" fill="#000"/>
<rect x="5" y="809" width="1" height="3" fill="#000"/><rect x="69" y="809" width="1" height="3" fill="#000"/><rect x="133" y="809" width="1" height="3" fill="#000"/><rect x="197" y="809" width="1" height="3" fill="#000"/><rect x="261" y="809" width="1" height="3" fill="#000"/><rect x="325" y="809" width="1" height="3" fill="#000"/><rect x="389" y="809" width="1" height="3" fill="#000"/><rect x="453" y="809" width="1" height="3" fill="#000"/><rect x="517" y="809" width="1" height="3" fill="#000"/><rect x="581" y="809" width="1" height="3" fill="#000"/><rect x="645" y="809" width="1" height="3" fill="#000"/><rect x="709" y="809" width="1" height="3" fill="#000"/><rect x="773" y="809" width="1" height="3" fill="#000"/><rect x="837" y="809" width="1" height="3" fill="#000"/><rect x="901" y="809" width="1" height="3" fill="#000"/><rect x="965" y="809" width="1" height="3" fill="#000"/><rect x="1029" y="809" width="1" height="3" fill="#000"/><rect x="1093" y="809" width="1" height="3" fill="#000"/><rect x="1157" y="809" width="1" height="3" fill="#000"/><rect x="1221" y="809" width="1" height="3" fill="#000"/>
<polygon points="1287.5,24 1297.5,24 1292.5,30" fill="#000"/>
</g>
<polyline points="5,673 21,671 37,668 53,665.5 69,664 85,664 101,664.5 117,665.5 133,669 149,673 165,677 181,681.5 197,684.5 213,686.5 229,686.5 245,686.5 261,686.5 277,684 293,680 309,675.5 325,671 341,666.5 357,662 373,656.5 389,651 405,646.5 421,642.25 437,639.1 453,636.3 469,634 485,630.5 501,629.25 517,629.25 533,629.25 549,632 565,634 581,636 597,638.2 613,640.2 629,640.2 645,640.2 661,640.2 677,639.25 693,638.25 709,635.75 725,633 741,630.1 757,625.75 773,622.6 789,621.1 805,617.6 821,615.5 837,613.25 853,612.25 869,612.25 885,611.25 901,611.25 917,610.4 933,609.5 949,608.5 965,607.6 981,606.6 997,605.75 1013,604.75 1029,603.75 1045,602.9 1061,602 1077,600.5 1093,600 1109,600 1125,600 1141,601 1157,601 1173,601.5 1189,602.6 1205,604.6 1221,606.7 1237,608.7 1253,611" fill="none" stroke="#ff0000" stroke-width="2" shape-rendering="crispEdges"/>
<polyline points="5,756 21,753 37,758 53,769.5 69,776 85,773.25 101,774 117,774 133,773.25 149,777.5 165,772 181,766 197,766 213,765.5 229,761 245,760.5 261,755 277,751.5 293,751.5 309,756 325,763 341,756 357,750 373,750 389,750 405,747 421,753.25 437,751.25 453,755.4 469,755.4 485,755.4 501,760 517,762 533,768.5 549,760.4 565,760.4 581,762.25 597,755.1 613,755 629,751 645,751 661,754 677,754 693,749 709,741 725,748.5 741,748.5 757,748.5 773,746.5 789,748 805,748 821,751.4 837,750.2 853,749.5 869,749 885,747.3 901,743 917,738.5 933,737.25 949,746.6 965,746.6 981,751.4 997,746.6 1013,747.5 1029,742.6 1045,742.6 1061,742.6 1077,741.6 1093,746.5 1109,750.6 1125,748.75 1141,749.75 1157,747.5 1173,747.5 1189,751.2 1205,751.6 1221,756.5 1237,762 1253,765" fill="none" stroke="#1e90ff" stroke-width="2" shape-rendering="crispEdges"/>
<g>
<line x1="1211.5" y1="77" x2="1285" y2="182" stroke="#4f9b2f" stroke-width="3"/>
<polygon points="1277.2,185.3 1291.7,174.9 1294.1,193.9" fill="#4f9b2f"/>
</g>
<g font-family="Liberation Sans, sans-serif">
<text transform="translate(1622 113) scale(0.935 1)" font-size="9.9" fill="#fff">165.574</text><text transform="translate(1622 159) scale(0.935 1)" font-size="9.9" fill="#fff">165.056</text><text transform="translate(1622 198) scale(0.935 1)" font-size="9.9" fill="#fff">164.621</text><text transform="translate(1622 214) scale(0.935 1)" font-size="9.9" fill="#fff">164.453</text><text transform="translate(1622 248) scale(0.935 1)" font-size="9.9" fill="#fff">164.062</text><text transform="translate(1622 280) scale(0.935 1)" font-size="9.9" fill="#fff">163.705</text>
<polygon points="8,31 15,31 11.5,35" fill="#000"/>
<text transform="translate(20 36) scale(0.935 1)" font-size="9.9" fill="#000">GBPJPY-,H4  164.740 164.841 164.453 164.453</text>
<text transform="translate(9 603) scale(0.965 1)" font-size="9.9" fill="#000">MACD(12,26,9) 0.1050 0.3202</text>
<text transform="translate(9 715) scale(0.955 1)" font-size="9.9" fill="#000">RSI(14) 40.6374</text>
</g>
</svg>
<svg width="1664" height="20" viewBox="0 0 1664 20" style="position:absolute;left:0;top:0">
<defs>
<pattern id="chk" width="2" height="2" patternUnits="userSpaceOnUse"><rect width="2" height="2" fill="#fafafa"/><rect width="1" height="1" fill="#e8e8e8"/><rect x="1" y="1" width="1" height="1" fill="#e8e8e8"/></pattern>
<linearGradient id="gold" x1="0" y1="0" x2="1" y2="1"><stop offset="0" stop-color="#ffe55a"/><stop offset="1" stop-color="#d9a014"/></linearGradient>
<linearGradient id="blu" x1="0" y1="0" x2="0" y2="1"><stop offset="0" stop-color="#48b4ff"/><stop offset="1" stop-color="#0a84e8"/></linearGradient>
<linearGradient id="cloud" x1="0" y1="0" x2="0" y2="1"><stop offset="0" stop-color="#ffffff"/><stop offset="1" stop-color="#bcc8dc"/></linearGradient>
<linearGradient id="grn" x1="0" y1="0" x2="0" y2="1"><stop offset="0" stop-color="#8af58a"/><stop offset="1" stop-color="#12c212"/></linearGradient>
</defs>
<!-- partial green icon at far left -->
<rect x="0" y="10" width="2" height="3" fill="#10d010"/><rect x="0" y="13" width="3" height="1" fill="#108a10"/><rect x="2" y="10" width="1" height="3" fill="#108a10"/>
<!-- 新订单 -->
<g fill="none" stroke="#000" stroke-width="1">
<path shape-rendering="crispEdges" d="M9 1.5h1M6 2.5h6M6 5.5h7M6 7.5h6M9.5 5v7M7 11.5h2.5M13.5 2.5v9M13 5.5h4M15.5 5.5v6.5M18 5.5h2.5M20.5 5.5v4.5M22 2.5h8M26.5 2.5v9M23 11.5h3.5M31.5 3.5h9v4h-9zM31.5 5.5h9M35.5 3.5v8.5M30 9.5h12"/>
<path d="M7.5 3v1.5M10.5 3v1.5M8.5 8.5l-2.5 2M10.5 9l1.5 1.5M16.5 1l-3.5 1.5M19 1l1.5 2M20.5 10l1.5-1.5M32 1l2 1.5M39.5 1l-2 1.5"/>
</g>
<!-- book icon -->
<polygon points="54.5,9 62,14.2 69.5,8.8 69.5,10.3 62,15.6 54.5,10.4" fill="#c89018" stroke="#8a5808" stroke-width="1" stroke-linejoin="round"/>
<path d="M56 10.6l6 4.1l6.5-4.6" stroke="#f4e2a8" stroke-width="0.7" fill="none"/>
<polygon points="59.3,1.6 69.3,8.8 62,14.2 54.6,9" fill="url(#gold)" stroke="#8a5808" stroke-width="1.2" stroke-linejoin="round"/>
<!-- server cloud -->
<rect x="84.5" y="0.5" width="10.5" height="9" fill="url(#blu)" stroke="#1a70d0"/>
<path d="M87.5 1v8M88 5h6" stroke="#ffffff" stroke-width="1" fill="none"/>
<path d="M84 15.3c-2.2-0.4-2.3-4.1 0.8-4.2c0.4-2.6 3.6-3.6 5.2-2c1.6-2 5-1.5 5.4 1.2c2.6 0.1 3.4 3.8 1.3 5z" fill="url(#cloud)" stroke="#45619a" stroke-width="1.1"/>
<!-- signal icon -->
<g fill="none" stroke-width="1">
<circle cx="118" cy="8" r="7.2" stroke="#5a88d8" stroke-width="1.3" opacity="0.85"/>
<circle cx="118" cy="8" r="4.5" stroke="#5a88d8" stroke-width="1.3" opacity="0.85"/>
<path d="M118 15.3a7.3 7.3 0 0 0 7-9" stroke="#3aa03a"/>
<path d="M118 12.6a4.6 4.6 0 0 0 4.4-6" stroke="#5ab85a"/>
</g>
<circle cx="118" cy="7.8" r="1.8" fill="#2050c0"/>
<rect x="117.5" y="8" width="1.3" height="7.5" fill="#20a020"/>
<!-- hat / auto trading -->
<polygon points="137.5,8 153,7.5 145,15.5" fill="#f4dc50" stroke="#c89a20" stroke-width="1"/>
<ellipse cx="145" cy="5.4" rx="7.6" ry="2.4" fill="#5ab4e4" stroke="#2a88b8"/>
<path d="M140.5 5.8C141 1.8 143 -0.2 144.5 -0.2C146 -0.2 148 1.8 148.5 5.8z" fill="#78c8f0" stroke="#2a88b8" stroke-width="0.9"/>
<circle cx="149.5" cy="11.5" r="4" fill="#e01e10" stroke="#b01000" stroke-width="0.8"/>
<rect x="148" y="10" width="3" height="3" fill="#ffffff"/>
<!-- 自动交易 -->
<g fill="none" stroke="#000" stroke-width="1">
<path shape-rendering="crispEdges" d="M162 1.5h2M159.5 2v10M168.5 2v10M159 2.5h10M159 4.5h10M159 7.5h10M159 10.5h10M171 2.5h5M170 5.5h6M176 3.5h5.5M180.5 3v8.5M178 11.5h2.5M182 3.5h12M195.5 1.5h9v4h-9zM195.5 3.5h9M196 7.5h9M204.5 7.5v4M201 11.5h3.5"/>
<path d="M173 6.5L171.5 10.5h2M174.5 8l1 2.5M177.5 1v7l-1.5 3.5M187 1.2l1.5 1.5M185.5 5l-2.5 2.5M190.5 5l2.5 2.5M189.5 6L185 10.5L182 11.5M185.5 7.5L188.5 10L193.5 11.5M197.5 6.5l-3 2.5M198.5 8.5l-3.5 2.5M201.5 8.5l-3.5 3"/>
</g>
<!-- separator + grip -->
<g shape-rendering="crispEdges">
<rect x="213" y="0" width="1" height="19" fill="#a0a0a0"/>
<rect x="214" y="0" width="1" height="19" fill="#ffffff"/>
<g fill="#a8a8a8"><rect x="217" y="0" width="3" height="1"/><rect x="217" y="2" width="3" height="1"/><rect x="217" y="4" width="3" height="1"/><rect x="217" y="6" width="3" height="1"/><rect x="217" y="8" width="3" height="1"/><rect x="217" y="10" width="3" height="1"/><rect x="217" y="12" width="3" height="1"/><rect x="217" y="14" width="3" height="1"/><rect x="217" y="16" width="3" height="1"/></g>
</g>
<!-- bar chart icon -->
<g id="axes" fill="none" stroke="#555" stroke-width="1.3">
<path d="M231.5 2.5v13.5M229 13.5h13.5M230 4l1.5-1.5l1.5 1.5M241 12l1.5 1.5l-1.5 1.5"/>
</g>
<path d="M237.5 3.5v8.5M237.5 4.5h2.5M237.5 10.5h-2.5" stroke="#109010" stroke-width="1.2" fill="none"/>
<g shape-rendering="crispEdges"><rect x="251" y="0" width="1" height="18" fill="#a0a0a0"/></g>
<!-- candle icon (pressed) -->
<rect x="252" y="0" width="24" height="18" fill="url(#chk)"/>
<rect x="251" y="18" width="26" height="1" fill="#ffffff"/><rect x="276" y="0" width="1" height="18" fill="#fff"/>
<g fill="none" stroke="#555" stroke-width="1.3">
<path d="M259.5 2.5v13.5M257 13.5h13.5M258 4l1.5-1.5l1.5 1.5M269 12l1.5 1.5l-1.5 1.5"/>
</g>
<rect x="265" y="0" width="1.2" height="12" fill="#109010"/>
<rect x="263.3" y="2.5" width="4.3" height="7.2" fill="url(#grn)" stroke="#109010" stroke-width="1"/>
<!-- line icon -->
<g fill="none" stroke="#555" stroke-width="1.3">
<path d="M287.5 2.5v13.5M285 13.5h13.5M286 4l1.5-1.5l1.5 1.5M297 12l1.5 1.5l-1.5 1.5"/>
</g>
<path d="M286 10.5c2-2 4-5 6-5c2 0 4 3 6 3.8" stroke="#2a9a2a" stroke-width="1.1" fill="none"/>
<g shape-rendering="crispEdges"><rect x="308" y="0" width="1" height="19" fill="#a0a0a0"/></g>
<!-- zoom in / out -->
<g>
<path d="M327 10l5 5" stroke="#a06a10" stroke-width="3.4"/>
<path d="M327 10l5 5" stroke="#f0d040" stroke-width="2"/>
<circle cx="323" cy="6" r="5.3" fill="#daf0fc" stroke="#3a84c4" stroke-width="1.1"/>
<path d="M320 6h6M323 3v6" stroke="#4a8aa8" stroke-width="1.5"/>
<path d="M355 10l5 5" stroke="#a06a10" stroke-width="3.4"/>
<path d="M355 10l5 5" stroke="#f0d040" stroke-width="2"/>
<circle cx="351" cy="6" r="5.3" fill="#daf0fc" stroke="#3a84c4" stroke-width="1.1"/>
<path d="M348 6h6" stroke="#4a8aa8" stroke-width="1.5"/>
</g>
<!-- tile windows -->
<g shape-rendering="crispEdges">
<rect x="373" y="0" width="8" height="8" fill="#2a9a1a"/>
<rect x="381" y="0" width="8" height="8" fill="#1a50d0"/>
<rect x="373" y="8" width="8" height="8" fill="#1a50d0"/>
<rect x="381" y="8" width="8" height="8" fill="#2a9a1a"/>
<g fill="#ffffff"><rect x="374" y="3" width="6" height="4"/><rect x="382" y="3" width="6" height="4"/><rect x="374" y="11" width="6" height="4"/><rect x="382" y="11" width="6" height="4"/></g>
<g fill="#88c888"><rect x="375" y="4" width="4" height="1"/><rect x="383" y="12" width="4" height="1"/></g>
<g fill="#8aa8e8"><rect x="383" y="4" width="4" height="1"/><rect x="375" y="12" width="4" height="1"/></g>
<rect x="398" y="0" width="1" height="19" fill="#a0a0a0"/>
<rect x="403" y="0" width="1" height="18" fill="#a0a0a0"/>
<rect x="404" y="0" width="24" height="18" fill="url(#chk)"/><rect x="403" y="18" width="26" height="1" fill="#fff"/><rect x="428" y="0" width="1" height="18" fill="#fff"/>
<rect x="431" y="0" width="1" height="18" fill="#a0a0a0"/>
<rect x="432" y="0" width="24" height="18" fill="url(#chk)"/><rect x="431" y="18" width="26" height="1" fill="#fff"/><rect x="456" y="0" width="1" height="18" fill="#fff"/>
<rect x="460" y="0" width="1" height="19" fill="#a0a0a0"/>
</g>
<!-- shift end / autoscroll -->
<g fill="none" stroke="#555" stroke-width="1.3">
<path d="M411.5 2.5v13M409 13.5h13.5M410 4l1.5-1.5l1.5 1.5M421 12l1.5 1.5l-1.5 1.5"/>
<path d="M439.5 2.5v13M437 13.5h13.5M438 4l1.5-1.5l1.5 1.5M449 12l1.5 1.5l-1.5 1.5"/>
</g>
<polygon points="416,4.3 420,7.4 416,10.6" fill="#5ad05a" stroke="#109a10" stroke-width="1"/>
<rect x="445" y="2" width="1.2" height="9.6" fill="#1a70a0"/>
<path d="M446.5 7.4l3-2.2v1.5h1.5v1.4h-1.5v1.5z" fill="#e05010"/>
<!-- new chart (template) icon -->
<path d="M470.5 0.5h7l3 3v10h-10z" fill="#ffffff" stroke="#8a8a8a" stroke-width="1"/>
<path d="M473.5 3v7M473.5 3.5h2M473.5 6.5h2" stroke="#444" stroke-width="0.9" fill="none"/>
<path d="M478.5 6.5h3.5v3.5h3.5v3.5h-3.5v3.5h-3.5v-3.5h-3.5v-3.5h3.5z" fill="url(#grn)" stroke="#0a8a0a" stroke-width="1"/>
<polygon points="492,7 497,7 494.5,10" fill="#000"/>
<!-- clock -->
<circle cx="516" cy="8" r="6.8" fill="#f8f8f8" stroke="#1a78e0" stroke-width="2.2"/>
<circle cx="516" cy="8" r="7.9" fill="none" stroke="#0a4aa0" stroke-width="0.8"/>
<path d="M515 4v4.5h3" stroke="#222" stroke-width="1" fill="none"/>
<polygon points="531,7 536,7 533.5,10" fill="#000"/>
<!-- indicators window -->
<rect x="547.5" y="1.5" width="15" height="13" fill="#ffffff" stroke="#3a78d0" stroke-width="1"/>
<rect x="548" y="2" width="14" height="2" fill="#5a98e0"/>
<rect x="548" y="8.5" width="14" height="1" fill="#3a78d0"/>
<path d="M549 7l2-1l2 0.5l2-1.5l2 1l2-0.5l2-1" stroke="#a01010" stroke-width="1" fill="none"/>
<path d="M549 12.5l2-1l2 0.5l2-1.5l2-1l2 2l2-1" stroke="#10a010" stroke-width="1" fill="none"/>
<polygon points="570,7 575,7 572.5,10" fill="#000"/>
<g shape-rendering="crispEdges">
<rect x="581" y="0" width="1" height="19" fill="#a0a0a0"/>
<g fill="#a8a8a8"><rect x="585" y="0" width="3" height="1"/><rect x="585" y="2" width="3" height="1"/><rect x="585" y="4" width="3" height="1"/><rect x="585" y="6" width="3" height="1"/><rect x="585" y="8" width="3" height="1"/><rect x="585" y="10" width="3" height="1"/><rect x="585" y="12" width="3" height="1"/><rect x="585" y="14" width="3" height="1"/><rect x="585" y="16" width="3" height="1"/></g>
<rect x="591" y="0" width="1" height="18" fill="#a0a0a0"/>
<rect x="592" y="0" width="24" height="18" fill="url(#chk)"/>
<rect x="591" y="18" width="26" height="1" fill="#ffffff"/><rect x="616" y="0" width="1" height="18" fill="#fff"/>
</g>
<!-- cursor arrow -->
<polygon points="599,1 599,12 601.3,10 603.6,14.6 605.8,13.6 603.5,9 607,8.5" fill="#4a4a4a"/>
<!-- crosshair -->
<path d="M631.5 1v6.2M631.5 9.8v6M624 8.5h6.3M633 8.5h6.2" stroke="#444" stroke-width="1.2" fill="none"/>
<g shape-rendering="crispEdges"><rect x="648" y="0" width="1" height="19" fill="#a0a0a0"/></g>
<!-- drawing tools -->
<rect x="665" y="2" width="1.3" height="13" fill="#444"/>
<rect x="688" y="7.8" width="12" height="1.3" fill="#444"/>
<path d="M716 14.5l12-12.5" stroke="#444" stroke-width="1.2"/>
<path d="M742 9.4l7.7-7.1M747.1 14.6l8.7-8.4" stroke="#555" stroke-width="0.9" fill="none"/><path d="M744.4 7.2v7.3M747.5 6v5.6M750.6 4v6.4M753.9 0v7" stroke="#3a3a3a" stroke-width="1.2" fill="none"/><path d="M742.5 13.2L755.5 4.6" stroke="#3a3a3a" stroke-width="0.9" fill="none"/>
<text x="752.8" y="17" font-family="Liberation Sans, sans-serif" font-weight="bold" font-size="7.5" fill="#3a3a3a">E</text>
<g fill="#444" shape-rendering="crispEdges">
<rect x="771" y="1" width="13" height="1" fill="none"/>
</g>
<g fill="#444" shape-rendering="crispEdges"><rect x="771" y="1" width="1" height="1"/><rect x="773" y="1" width="1" height="1"/><rect x="775" y="1" width="1" height="1"/><rect x="777" y="1" width="1" height="1"/><rect x="779" y="1" width="1" height="1"/><rect x="781" y="1" width="1" height="1"/><rect x="783" y="1" width="1" height="1"/><rect x="771" y="4" width="1" height="1"/><rect x="773" y="4" width="1" height="1"/><rect x="775" y="4" width="1" height="1"/><rect x="777" y="4" width="1" height="1"/><rect x="779" y="4" width="1" height="1"/><rect x="781" y="4" width="1" height="1"/><rect x="783" y="4" width="1" height="1"/><rect x="771" y="8" width="1" height="1"/><rect x="773" y="8" width="1" height="1"/><rect x="775" y="8" width="1" height="1"/><rect x="777" y="8" width="1" height="1"/><rect x="779" y="8" width="1" height="1"/><rect x="781" y="8" width="1" height="1"/><rect x="783" y="8" width="1" height="1"/><rect x="771" y="12" width="1" height="1"/><rect x="773" y="12" width="1" height="1"/><rect x="775" y="12" width="1" height="1"/><rect x="777" y="12" width="1" height="1"/><rect x="779" y="12" width="1" height="1"/></g>
<text x="780.5" y="16.8" font-family="Liberation Sans, sans-serif" font-weight="bold" font-size="7" fill="#444">F</text>
<text x="801.5" y="12.8" font-family="Liberation Sans, sans-serif" font-size="11" fill="#444">A</text>
<!-- text label T -->
<g fill="#555" shape-rendering="crispEdges"><rect x="829" y="2" width="1" height="1"/><rect x="829" y="14" width="1" height="1"/><rect x="831" y="2" width="1" height="1"/><rect x="831" y="14" width="1" height="1"/><rect x="833" y="2" width="1" height="1"/><rect x="833" y="14" width="1" height="1"/><rect x="835" y="2" width="1" height="1"/><rect x="835" y="14" width="1" height="1"/><rect x="837" y="2" width="1" height="1"/><rect x="837" y="14" width="1" height="1"/><rect x="839" y="2" width="1" height="1"/><rect x="839" y="14" width="1" height="1"/><rect x="828" y="4" width="1" height="1"/><rect x="840" y="4" width="1" height="1"/><rect x="828" y="6" width="1" height="1"/><rect x="840" y="6" width="1" height="1"/><rect x="828" y="8" width="1" height="1"/><rect x="840" y="8" width="1" height="1"/><rect x="828" y="10" width="1" height="1"/><rect x="840" y="10" width="1" height="1"/><rect x="828" y="12" width="1" height="1"/><rect x="840" y="12" width="1" height="1"/></g>
<rect x="827" y="1" width="2" height="1.5" fill="#555"/>
<path d="M830.2 5.3h7.5M834 5.3v7.5" stroke="#555" stroke-width="1.4" fill="none"/>
<!-- arrows icon -->
<polygon points="855,5.5 858.5,2 862,5.5" fill="#555"/>
<path d="M857.5 9.5l2 2l4-5" stroke="#444" stroke-width="1.2" fill="none"/>
<polygon points="862,11 869,11 865.5,14.8" fill="#555"/>
<polygon points="876,7 881,7 878.5,10" fill="#000"/>
<g shape-rendering="crispEdges">
<rect x="887" y="0" width="1" height="19" fill="#a0a0a0"/>
<g fill="#a8a8a8"><rect x="891" y="0" width="3" height="1"/><rect x="891" y="2" width="3" height="1"/><rect x="891" y="4" width="3" height="1"/><rect x="891" y="6" width="3" height="1"/><rect x="891" y="8" width="3" height="1"/><rect x="891" y="10" width="3" height="1"/><rect x="891" y="12" width="3" height="1"/><rect x="891" y="14" width="3" height="1"/><rect x="891" y="16" width="3" height="1"/></g>
<rect x="1037" y="0" width="1" height="18" fill="#a0a0a0"/>
<rect x="1038" y="0" width="24" height="18" fill="url(#chk)"/><rect x="1037" y="18" width="26" height="1" fill="#fff"/><rect x="1062" y="0" width="1" height="18" fill="#fff"/>
<rect x="1148" y="0" width="1" height="19" fill="#a0a0a0"/>
</g>
<g font-family="Liberation Sans, sans-serif" font-size="9.6" fill="#484848">
<text x="902" y="11.6">M1</text>
<text x="930" y="11.6">M5</text>
<text x="957" y="11.6">M15</text>
<text x="985" y="11.6">M30</text>
<text x="1015" y="11.6">H1</text>
<text x="1042" y="11.6">H4</text>
<text x="1071" y="11.6">D1</text>
<text x="1099" y="11.6">W1</text>
<text x="1125" y="11.6">MN</text>
</g>
<!-- search -->
<path d="M1611.5 13l3.5-3.5" stroke="#1a50c0" stroke-width="2.2" stroke-linecap="round"/>
<circle cx="1618.4" cy="5.1" r="3.6" fill="#f4f4ff" stroke="#2a6ad8" stroke-width="1.3"/>
<!-- chat badge -->
<path d="M1636 10.5c0-2.5 2.5-4 6-4s6 1.5 6 4s-2.5 4-6 4c-0.8 0-1.5 0-2.2-0.2l-1.8 2l0.2-2.5c-1.4-0.7-2.2-1.9-2.2-3.3z" fill="#e0e2ea" stroke="#9a9a9a" stroke-width="0.8"/>
<circle cx="1649.6" cy="6.3" r="7.6" fill="#e03a1a"/>
<text x="1649.4" y="10.3" font-family="Liberation Serif, serif" font-size="11" fill="#ffffff" text-anchor="middle">1</text>
</svg>

</body></html>
